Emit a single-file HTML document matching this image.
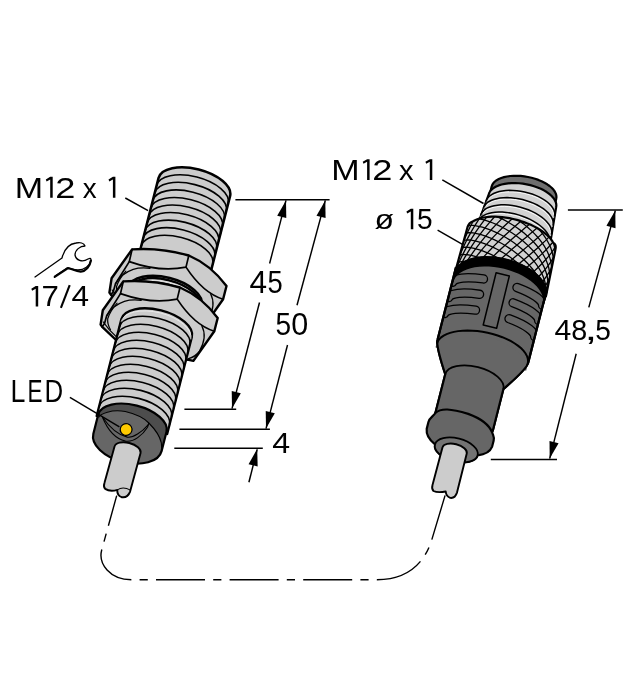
<!DOCTYPE html>
<html><head><meta charset="utf-8"><title>Dimension drawing</title>
<style>html,body{margin:0;padding:0;background:#fff}svg{display:block}</style></head>
<body>
<svg width="632" height="677" viewBox="0 0 632 677">
<rect width="632" height="677" fill="#fff"/>
<g transform="translate(195 187.2) rotate(14.3)">
<path d="M -37.6 80 L -37.6 0 A 36.9 18.1 0 0 1 36.2 0 L 36.2 80 Z" fill="#cccccc" stroke="#000" stroke-width="2.5" stroke-linejoin="round"/>
<path d="M -37.6 7.8 A 36.9 18.1 0 0 1 36.2 7.8" fill="none" stroke="#000" stroke-width="1.6" />
<path d="M -37.6 15.6 A 36.9 18.1 0 0 1 36.2 15.6" fill="none" stroke="#000" stroke-width="1.6" />
<path d="M -37.6 23.4 A 36.9 18.1 0 0 1 36.2 23.4" fill="none" stroke="#000" stroke-width="1.6" />
<path d="M -37.6 31.2 A 36.9 18.1 0 0 1 36.2 31.2" fill="none" stroke="#000" stroke-width="1.6" />
<path d="M -37.6 39 A 36.9 18.1 0 0 1 36.2 39" fill="none" stroke="#000" stroke-width="1.6" />
<path d="M -37.6 46.8 A 36.9 18.1 0 0 1 36.2 46.8" fill="none" stroke="#000" stroke-width="1.6" />
<path d="M -37.6 54.6 A 36.9 18.1 0 0 1 36.2 54.6" fill="none" stroke="#000" stroke-width="1.6" />
<path d="M -37.6 62.4 A 36.9 18.1 0 0 1 36.2 62.4" fill="none" stroke="#000" stroke-width="1.6" />
<path d="M -37.6 70.2 A 36.9 18.1 0 0 1 36.2 70.2" fill="none" stroke="#000" stroke-width="1.6" />
</g>
<path d="M 132.1 249.4 Q 160 247.3 188.8 255.5 Q 211 265 226.5 286 L 223.1 299.2 L 202.2 328.9 L 197.4 327.8 L 160 326 L 124.8 308 L 111 294.8 L 109.4 292.6 L 111.6 278.2 Z" fill="#cccccc" stroke="#000" stroke-width="2.4" stroke-linejoin="round"/>
<g fill="none" stroke="#000" stroke-width="1.7" stroke-linecap="round" stroke-linejoin="round">
<path d="M 132.1 249.4 L 129.3 261.6 Q 160 272.5 186 267.1 L 188.8 255.5"/>
<path d="M 186 267.1 Q 203 293 223.1 299.2"/>
<path d="M 129.3 261.6 L 115.5 283.7 L 113.3 291.5 L 111 294.8"/>
<path d="M 115.5 283.7 Q 121 273.5 133.2 269.3 Q 140 267.3 150 268.3" stroke-width="1.3"/>
<path d="M 210.5 293.5 Q 216.5 305 208.1 319.5 Q 204 325 197.4 326.6" stroke-width="1.3"/>
<path d="M 112.1 290 L 118.2 297.8 L 124.8 304.4" stroke-width="1.2"/>
<path d="M 125.9 271.2 Q 119 279 116.5 286.7 Q 116 292 119.3 297.8" stroke-width="1.2"/>
</g>
<g transform="translate(195 187.2) rotate(14.3)">
<path d="M -39.5 140 L -39.5 113 A 37.5 18.8 0 0 1 35.5 113 L 35.5 140 Z" fill="#cccccc" stroke="#000" stroke-width="2.6"/>
<path d="M -38.8 115 A 36.8 18.4 0 0 1 34.8 115" fill="none" stroke="#000" stroke-width="2.4" />
<path d="M -38.6 117 A 36.6 18.3 0 0 1 34.6 117" fill="none" stroke="#e8e8e8" stroke-width="0.8" />
<path d="M -38.6 119.2 A 36.6 18.3 0 0 1 34.6 119.2" fill="none" stroke="#000" stroke-width="2.2" />
<path d="M -38.6 121.2 A 36.6 18.3 0 0 1 34.6 121.2" fill="none" stroke="#e8e8e8" stroke-width="0.7" />
</g>
<g transform="translate(-8.8 32)">
<path d="M 132.1 249.4 Q 160 247.3 188.8 255.5 Q 211 265 226.5 286 L 223.1 299.2 L 202.2 328.9 L 197.4 327.8 L 160 326 L 124.8 308 L 111 294.8 L 109.4 292.6 L 111.6 278.2 Z" fill="#cccccc" stroke="#000" stroke-width="2.4" stroke-linejoin="round"/>
<g fill="none" stroke="#000" stroke-width="1.7" stroke-linecap="round" stroke-linejoin="round">
<path d="M 132.1 249.4 L 129.3 261.6 Q 160 272.5 186 267.1 L 188.8 255.5"/>
<path d="M 186 267.1 Q 203 293 223.1 299.2"/>
<path d="M 129.3 261.6 L 115.5 283.7 L 113.3 291.5 L 111 294.8"/>
<path d="M 115.5 283.7 Q 121 273.5 133.2 269.3 Q 140 267.3 150 268.3" stroke-width="1.3"/>
<path d="M 210.5 293.5 Q 216.5 305 208.1 319.5 Q 204 325 197.4 326.6" stroke-width="1.3"/>
<path d="M 112.1 290 L 118.2 297.8 L 124.8 304.4" stroke-width="1.2"/>
<path d="M 125.9 271.2 Q 119 279 116.5 286.7 Q 116 292 119.3 297.8" stroke-width="1.2"/>
</g>
</g>
<g transform="translate(195 187.2) rotate(14.3)">
<path d="M -38.8 246 L -38.8 146 A 36.4 18.2 0 0 1 34 146 L 34 246 Z" fill="#cccccc" stroke="#000" stroke-width="2.3" stroke-linejoin="round"/>
<path d="M -38.3 148.6 A 35.9 18.2 0 0 1 33.5 148.6" fill="none" stroke="#eee" stroke-width="0.8" />
<path d="M -38.8 154.25 A 36.4 18.2 0 0 1 34 154.25" fill="none" stroke="#000" stroke-width="1.6" />
<path d="M -38.8 162.5 A 36.4 18.2 0 0 1 34 162.5" fill="none" stroke="#000" stroke-width="1.6" />
<path d="M -38.8 170.75 A 36.4 18.2 0 0 1 34 170.75" fill="none" stroke="#000" stroke-width="1.6" />
<path d="M -38.8 179 A 36.4 18.2 0 0 1 34 179" fill="none" stroke="#000" stroke-width="1.6" />
<path d="M -38.8 187.25 A 36.4 18.2 0 0 1 34 187.25" fill="none" stroke="#000" stroke-width="1.6" />
<path d="M -38.8 195.5 A 36.4 18.2 0 0 1 34 195.5" fill="none" stroke="#000" stroke-width="1.6" />
<path d="M -38.8 203.75 A 36.4 18.2 0 0 1 34 203.75" fill="none" stroke="#000" stroke-width="1.6" />
<path d="M -38.8 212 A 36.4 18.2 0 0 1 34 212" fill="none" stroke="#000" stroke-width="1.6" />
<path d="M -38.8 220.25 A 36.4 18.2 0 0 1 34 220.25" fill="none" stroke="#000" stroke-width="1.6" />
<path d="M -38.8 228.5 A 36.4 18.2 0 0 1 34 228.5" fill="none" stroke="#000" stroke-width="1.6" />
<path d="M -38.8 236.75 A 36.4 18.2 0 0 1 34 236.75" fill="none" stroke="#000" stroke-width="1.6" />
<path d="M -37.6 244 A 35.2 18 0 0 1 32.8 244 L 32.8 264 A 35.2 20 0 0 1 -37.6 264 Z" fill="#4d4d4d" stroke="none"/>
<path d="M 32.8 264 A 35.2 20 0 0 1 -37.6 264 L -37.6 247 C -36 243 -26 235.5 -12.1 234.6 C 0 234.4 8 236.5 13.5 239.9 C 22 245 28 251 30.5 256 L 32.8 264 Z" fill="#666666" stroke="none"/>
<path d="M -36.6 247 C -36 243 -26 235.5 -12.1 234.6 C 0 234.4 8 236.5 13.5 239.9 C 22 245 28 251 30.5 256 L 32.8 263" fill="none" stroke="#000" stroke-width="1.1"/>
<path d="M 13.5 239.9 L 13.3 244.3 C 10.5 253 3.5 262.6 -4.6 263.2 C -16 263.4 -26 255 -33 245.5" fill="none" stroke="#000" stroke-width="1.1"/>
<path d="M 13.4 241.5 C 9 250.5 2 258.5 -3.9 258.9 C -15 259 -25 252.5 -33 245.5" fill="none" stroke="#000" stroke-width="1.1"/>
<path d="M -37.6 244 A 35.2 18 0 0 1 32.8 244 L 32.8 264 A 35.2 20 0 0 1 -37.6 264 Z" fill="none" stroke="#000" stroke-width="2.2" stroke-linejoin="round"/>
<circle cx="-6.9" cy="251.8" r="5.9" fill="#ffcb00" stroke="#000" stroke-width="1.2"/>
<path d="M -13.9 271 A 13.4 6.9 0 0 1 12.9 271 L 12.3 311 Q 11.5 318 5.5 318.5 Q 0.5 318 -0.5 312.5 Q -7 316.5 -12.5 314.5 Q -15 313 -14.7 309 Z" fill="#cccccc" stroke="#000" stroke-width="1.9" stroke-linejoin="round"/>
<path d="M -0.5 312.5 Q 4 307.5 12.3 309.5" fill="none" stroke="#000" stroke-width="1"/>
</g>
<g transform="translate(522.65 195.35) rotate(14.3)">
<defs><clipPath id="gr"><path d="M -46.8 175 L -46.8 92 A 46.5 23.2 0 0 1 46.7 92 L 46.7 175 Z"/></clipPath></defs>
<path d="M -46.8 169 L -46.8 92 A 46.5 23.2 0 0 1 46.7 92 L 46.7 169 Z" fill="#666666" stroke="none"/>
<g clip-path="url(#gr)" fill="none" stroke-linecap="round"><path d="M -46.4 101.48 A 46.5 12.5 0 0 1 -17.3 90.7" stroke="#000" stroke-width="9.4"/><path d="M 17.3 90.7 A 46.5 12.5 0 0 1 46.4 101.48" stroke="#000" stroke-width="9.4"/><path d="M -46.4 117.28 A 46.5 12.5 0 0 1 -17.3 106.5" stroke="#000" stroke-width="9.4"/><path d="M 17.3 106.5 A 46.5 12.5 0 0 1 46.4 117.28" stroke="#000" stroke-width="9.4"/><path d="M -46.4 133.68 A 46.5 12.5 0 0 1 -17.3 122.9" stroke="#000" stroke-width="9.4"/><path d="M 17.3 122.9 A 46.5 12.5 0 0 1 46.4 133.68" stroke="#000" stroke-width="9.4"/><path d="M -46.4 101.48 A 46.5 12.5 0 0 1 -17.3 90.7" stroke="#666666" stroke-width="6.8"/><path d="M 17.3 90.7 A 46.5 12.5 0 0 1 46.4 101.48" stroke="#666666" stroke-width="6.8"/><path d="M -46.4 117.28 A 46.5 12.5 0 0 1 -17.3 106.5" stroke="#666666" stroke-width="6.8"/><path d="M 17.3 106.5 A 46.5 12.5 0 0 1 46.4 117.28" stroke="#666666" stroke-width="6.8"/><path d="M -46.4 133.68 A 46.5 12.5 0 0 1 -17.3 122.9" stroke="#666666" stroke-width="6.8"/><path d="M 17.3 122.9 A 46.5 12.5 0 0 1 46.4 133.68" stroke="#666666" stroke-width="6.8"/></g>
<polygon points="-6.6,81.6 7,81.4 7.6,135.2 -6.2,135.4" fill="#666666" stroke="#000" stroke-width="1.5" stroke-linejoin="round"/>
<path d="M -46.8 86 L -46.8 161 Q -47.1 167 -30.8 192.5 L -30.8 236 L 29.2 236 L 29.2 192.5 Q 47 167 46.7 161 L 46.7 86" fill="none" stroke="#000" stroke-width="2.2" stroke-linejoin="round"/>
<path d="M -46.8 169 A 46.5 23.2 0 0 1 46.7 169 L 46.7 161 Q 47 167 29.2 192.5 L 29.2 236 L -30.8 236 L -30.8 192.5 Q -47.1 167 -46.8 161 Z" fill="#666666" stroke="none"/>
<path d="M -46.8 86 L -46.8 161 Q -47.1 167 -30.8 192.5 L -30.8 236 M 29.2 236 L 29.2 192.5 Q 47 167 46.7 161 L 46.7 86" fill="none" stroke="#000" stroke-width="2.2" stroke-linejoin="round"/>
<path d="M -46.5 164.93 L -46.21 162.51 L -45.33 160.1 L -43.89 157.74 L -41.9 155.44 L -39.37 153.24 L -36.36 151.17 L -32.88 149.25 L -28.99 147.51 L -24.74 145.96 L -20.18 144.64 L -15.36 143.54 L -10.35 142.7 L -5.21 142.12 L 0 141.8 L 5.21 141.75 L 10.35 141.98 L 15.36 142.47 L 20.18 143.22 L 24.74 144.23 L 28.99 145.48 L 32.88 146.95 L 36.36 148.62 L 39.37 150.48 L 41.9 152.51 L 43.89 154.66 L 45.33 156.93 L 46.21 159.28 L 46.5 161.67" fill="none" stroke="#000" stroke-width="2"/>
<path d="M -30.8 192.5 A 30 15 0 0 1 29.2 192.5" fill="none" stroke="#000" stroke-width="1.8" />
<path d="M -30.8 232.5 C -31.8 236 -35.3 238 -35.3 243 L -35.3 250 Q -34.3 258 -23.4 263 A 22 11.5 0 0 0 20.6 263 Q 31.5 259 32.5 251 L 32.5 245 C 32.5 241 30.7 240 29.2 237.5 C 23.2 229 9.2 226 1.2 225.2 C -16.8 224.4 -26.8 226 -30.8 232.5 Z" fill="#666666" stroke="#000" stroke-width="2.2" stroke-linejoin="round"/>
<ellipse cx="-1.4" cy="263" rx="22" ry="11.5" fill="#737373" stroke="#000" stroke-width="1.8"/>
<path d="M -15.4 264 A 12.5 6.4 0 0 1 9.6 264 L 9.8 304 Q 9.4 310.5 4.6 311 Q 0.1 310.5 -1.4 306 Q -8.9 309.5 -13.4 308.5 Q -15.9 307 -15.8 303 Z" fill="#cccccc" stroke="#000" stroke-width="1.9" stroke-linejoin="round"/>
<path d="M -32.2 10 L -32.2 -1.05 L -31.99 -2.87 L -31.38 -4.7 L -30.36 -6.5 L -28.95 -8.26 L -27.17 -9.96 L -25.04 -11.56 L -22.59 -13.06 L -19.85 -14.42 L -16.85 -15.65 L -13.63 -16.71 L -10.23 -17.6 L -6.7 -18.31 L -3.07 -18.82 L 0.6 -19.13 L 4.27 -19.24 L 7.9 -19.15 L 11.43 -18.85 L 14.83 -18.35 L 18.05 -17.65 L 21.05 -16.78 L 23.79 -15.72 L 26.24 -14.51 L 28.37 -13.15 L 30.15 -11.66 L 31.56 -10.07 L 32.58 -8.38 L 33.19 -6.62 L 33.4 -4.82 L 33.4 10 Z" fill="#6e6e6e" stroke="#000" stroke-width="2.2" stroke-linejoin="round"/>
<path d="M -38.22 58 L -33.1 7.36 L -32.89 5.43 L -32.25 3.5 L -31.18 1.59 L -29.71 -0.26 L -27.86 -2.05 L -25.63 -3.74 L -23.07 -5.32 L -20.21 -6.76 L -17.08 -8.04 L -13.72 -9.16 L -10.17 -10.09 L -6.48 -10.83 L -2.69 -11.37 L 1.15 -11.69 L 4.98 -11.8 L 8.77 -11.69 L 12.46 -11.36 L 16.01 -10.83 L 19.37 -10.09 L 22.5 -9.15 L 25.36 -8.03 L 27.92 -6.74 L 30.15 -5.3 L 32 -3.73 L 33.47 -2.03 L 34.54 -0.25 L 35.18 1.61 L 35.4 3.51 L 39.58 52 Z" fill="#d2d2d2" stroke="#000" stroke-width="2.2" stroke-linejoin="round"/>
<path d="M -33.42 16.39 L -33.2 14.42 L -32.55 12.46 L -31.48 10.53 L -30 8.67 L -28.13 6.89 L -25.9 5.21 L -23.32 3.66 L -20.44 2.25 L -17.28 1.01 L -13.9 -0.05 L -10.33 -0.92 L -6.61 -1.58 L -2.8 -2.04 L 1.06 -2.27 L 4.92 -2.29 L 8.73 -2.09 L 12.45 -1.66 L 16.02 -1.03 L 19.41 -0.18 L 22.56 0.85 L 25.44 2.07 L 28.02 3.45 L 30.26 4.98 L 32.13 6.64 L 33.61 8.41 L 34.68 10.27 L 35.33 12.18 L 35.54 14.14" fill="none" stroke="#fff" stroke-width="0.8"/>
<path d="M -34.02 14.91 L -33.8 12.94 L -33.14 10.98 L -32.05 9.05 L -30.54 7.19 L -28.64 5.4 L -26.36 3.72 L -23.74 2.17 L -20.81 0.77 L -17.6 -0.48 L -14.16 -1.54 L -10.52 -2.41 L -6.74 -3.08 L -2.87 -3.54 L 1.06 -3.77 L 4.99 -3.79 L 8.87 -3.59 L 12.65 -3.17 L 16.28 -2.53 L 19.73 -1.69 L 22.93 -0.66 L 25.87 0.55 L 28.49 1.94 L 30.77 3.47 L 32.67 5.12 L 34.17 6.89 L 35.26 8.75 L 35.92 10.66 L 36.14 12.62" fill="none" stroke="#000" stroke-width="1.5"/>
<path d="M -34.33 23.91 L -34.11 21.9 L -33.45 19.91 L -32.35 17.97 L -30.83 16.09 L -28.92 14.31 L -26.63 12.65 L -23.99 11.12 L -21.04 9.75 L -17.81 8.56 L -14.34 7.55 L -10.68 6.75 L -6.88 6.16 L -2.97 5.79 L 0.98 5.64 L 4.93 5.71 L 8.84 6.01 L 12.64 6.54 L 16.3 7.27 L 19.77 8.22 L 22.99 9.35 L 25.95 10.67 L 28.59 12.14 L 30.88 13.77 L 32.79 15.51 L 34.31 17.36 L 35.4 19.28 L 36.07 21.26 L 36.29 23.27" fill="none" stroke="#fff" stroke-width="0.8"/>
<path d="M -34.93 22.42 L -34.71 20.41 L -34.03 18.42 L -32.92 16.47 L -31.37 14.6 L -29.43 12.82 L -27.1 11.15 L -24.41 9.63 L -21.41 8.26 L -18.13 7.06 L -14.6 6.06 L -10.88 5.25 L -7.01 4.66 L -3.04 4.29 L 0.98 4.14 L 5 4.21 L 8.97 4.51 L 12.84 5.04 L 16.56 5.77 L 20.08 6.71 L 23.37 7.85 L 26.37 9.16 L 29.05 10.64 L 31.38 12.26 L 33.33 14.01 L 34.87 15.85 L 35.99 17.78 L 36.66 19.76 L 36.89 21.76" fill="none" stroke="#000" stroke-width="1.5"/>
<path d="M -35.24 31.39 L -35.02 29.34 L -34.34 27.32 L -33.22 25.36 L -31.67 23.47 L -29.7 21.7 L -27.36 20.05 L -24.66 18.56 L -21.64 17.23 L -18.33 16.08 L -14.78 15.14 L -11.04 14.4 L -7.15 13.89 L -3.15 13.6 L 0.9 13.54 L 4.94 13.72 L 8.94 14.12 L 12.83 14.75 L 16.58 15.59 L 20.12 16.63 L 23.43 17.87 L 26.45 19.29 L 29.15 20.86 L 31.5 22.58 L 33.46 24.41 L 35.01 26.34 L 36.13 28.33 L 36.81 30.37 L 37.04 32.43" fill="none" stroke="#fff" stroke-width="0.8"/>
<path d="M -35.84 29.89 L -35.61 27.83 L -34.92 25.81 L -33.78 23.85 L -32.21 21.97 L -30.21 20.19 L -27.83 18.55 L -25.08 17.05 L -22.01 15.72 L -18.65 14.58 L -15.04 13.63 L -11.24 12.9 L -7.28 12.39 L -3.22 12.1 L 0.9 12.04 L 5.01 12.22 L 9.07 12.62 L 13.03 13.25 L 16.84 14.09 L 20.44 15.14 L 23.8 16.38 L 26.88 17.8 L 29.62 19.37 L 32 21.09 L 34 22.92 L 35.57 24.84 L 36.71 26.84 L 37.4 28.88 L 37.64 30.94" fill="none" stroke="#000" stroke-width="1.5"/>
<path d="M -36.16 38.83 L -35.92 36.74 L -35.23 34.69 L -34.08 32.71 L -32.5 30.82 L -30.49 29.05 L -28.09 27.42 L -25.33 25.96 L -22.24 24.67 L -18.86 23.58 L -15.23 22.7 L -11.4 22.04 L -7.41 21.61 L -3.33 21.41 L 0.81 21.45 L 4.95 21.72 L 9.04 22.23 L 13.02 22.96 L 16.85 23.91 L 20.48 25.07 L 23.86 26.42 L 26.95 27.94 L 29.72 29.61 L 32.12 31.42 L 34.12 33.34 L 35.71 35.35 L 36.86 37.41 L 37.55 39.52 L 37.78 41.63" fill="none" stroke="#fff" stroke-width="0.8"/>
<path d="M -36.76 37.31 L -36.52 35.21 L -35.82 33.16 L -34.65 31.18 L -33.04 29.3 L -31 27.53 L -28.56 25.91 L -25.75 24.44 L -22.61 23.16 L -19.18 22.07 L -15.49 21.19 L -11.6 20.53 L -7.55 20.1 L -3.39 19.9 L 0.81 19.95 L 5.02 20.22 L 9.17 20.73 L 13.22 21.47 L 17.11 22.42 L 20.8 23.58 L 24.24 24.93 L 27.38 26.45 L 30.19 28.13 L 32.62 29.94 L 34.66 31.86 L 36.27 33.87 L 37.44 35.94 L 38.15 38.04 L 38.38 40.15" fill="none" stroke="#000" stroke-width="1.5"/>
<defs><clipPath id="kn"><path d="M -46.5 91.8 L -45.6 44.5 Q -45.3 39.5 -41.69 37.35 L -40.01 35.8 L -38.06 34.31 L -35.84 32.92 L -33.38 31.61 L -30.69 30.4 L -27.78 29.3 L -24.69 28.33 L -21.42 27.47 L -18.01 26.74 L -14.47 26.15 L -10.84 25.7 L -7.14 25.39 L -3.38 25.23 L 0.39 25.21 L 4.16 25.33 L 7.89 25.6 L 11.57 26.02 L 15.17 26.57 L 18.65 27.26 L 22 28.08 L 25.2 29.03 L 28.22 30.09 L 31.04 31.27 L 33.64 32.55 L 36 33.93 L 38.11 35.39 L 39.95 36.92 L 41.51 38.52 Q 45.1 39 45.2 45 L 47.5 91.8 L 47.2 88.96 L 46.32 86.15 L 44.86 83.41 L 42.85 80.78 L 40.3 78.29 L 37.25 75.96 L 33.73 73.84 L 29.8 71.94 L 25.51 70.29 L 20.89 68.92 L 16.02 67.83 L 10.96 67.04 L 5.76 66.56 L 0.5 66.4 L -4.76 66.56 L -9.96 67.04 L -15.02 67.83 L -19.89 68.92 L -24.51 70.29 L -28.8 71.94 L -32.73 73.84 L -36.25 75.96 L -39.3 78.29 L -41.85 80.78 L -43.86 83.41 L -45.32 86.15 L -46.2 88.96 L -46.5 91.8 Z"/></clipPath></defs>
<path d="M -46.5 91.8 L -45.6 44.5 Q -45.3 39.5 -41.69 37.35 L -40.01 35.8 L -38.06 34.31 L -35.84 32.92 L -33.38 31.61 L -30.69 30.4 L -27.78 29.3 L -24.69 28.33 L -21.42 27.47 L -18.01 26.74 L -14.47 26.15 L -10.84 25.7 L -7.14 25.39 L -3.38 25.23 L 0.39 25.21 L 4.16 25.33 L 7.89 25.6 L 11.57 26.02 L 15.17 26.57 L 18.65 27.26 L 22 28.08 L 25.2 29.03 L 28.22 30.09 L 31.04 31.27 L 33.64 32.55 L 36 33.93 L 38.11 35.39 L 39.95 36.92 L 41.51 38.52 Q 45.1 39 45.2 45 L 47.5 91.8 L 47.2 88.96 L 46.32 86.15 L 44.86 83.41 L 42.85 80.78 L 40.3 78.29 L 37.25 75.96 L 33.73 73.84 L 29.8 71.94 L 25.51 70.29 L 20.89 68.92 L 16.02 67.83 L 10.96 67.04 L 5.76 66.56 L 0.5 66.4 L -4.76 66.56 L -9.96 67.04 L -15.02 67.83 L -19.89 68.92 L -24.51 70.29 L -28.8 71.94 L -32.73 73.84 L -36.25 75.96 L -39.3 78.29 L -41.85 80.78 L -43.86 83.41 L -45.32 86.15 L -46.2 88.96 L -46.5 91.8 Z" fill="#d2d2d2" stroke="none"/>
<g clip-path="url(#kn)" fill="none" stroke="#000" stroke-width="1.3"><path d="M -47.8 -21.8 L -47.65 -22.54 L -47.22 -23.26 L -46.49 -23.94 L -45.48 -24.56 L -44.19 -25.12 L -42.63 -25.6 L -40.82 -26.01 L -38.75 -26.32 L -36.44 -26.54 L -33.92 -26.65 L -31.18 -26.65 L -28.26 -26.52 L -25.17 -26.27 L -21.92 -25.89 L -18.54 -25.38 L -15.05 -24.73 L -11.47 -23.94 L -7.81 -23.01 L -4.12 -21.94 L -0.4 -20.73 L 3.32 -19.38 L 7.01 -17.88 L 10.67 -16.26 L 14.25 -14.5 L 17.74 -12.62 L 21.12 -10.61 L 24.37 -8.49 L 27.46 -6.26 L 30.38 -3.93 L 33.12 -1.51 L 35.64 1 L 37.95 3.58 L 40.02 6.23 L 41.83 8.94 L 43.39 11.69 L 44.68 14.47 L 45.69 17.28 L 46.42 20.1 L 46.85 22.93 L 47 25.74"/><path d="M -47.8 -14.3 L -47.65 -15.04 L -47.22 -15.76 L -46.49 -16.44 L -45.48 -17.06 L -44.19 -17.62 L -42.63 -18.1 L -40.82 -18.51 L -38.75 -18.82 L -36.44 -19.04 L -33.92 -19.15 L -31.18 -19.15 L -28.26 -19.02 L -25.17 -18.77 L -21.92 -18.39 L -18.54 -17.88 L -15.05 -17.23 L -11.47 -16.44 L -7.81 -15.51 L -4.12 -14.44 L -0.4 -13.23 L 3.32 -11.88 L 7.01 -10.38 L 10.67 -8.76 L 14.25 -7 L 17.74 -5.12 L 21.12 -3.11 L 24.37 -0.99 L 27.46 1.24 L 30.38 3.57 L 33.12 5.99 L 35.64 8.5 L 37.95 11.08 L 40.02 13.73 L 41.83 16.44 L 43.39 19.19 L 44.68 21.97 L 45.69 24.78 L 46.42 27.6 L 46.85 30.43 L 47 33.24"/><path d="M -47.8 -6.8 L -47.65 -7.54 L -47.22 -8.26 L -46.49 -8.94 L -45.48 -9.56 L -44.19 -10.12 L -42.63 -10.6 L -40.82 -11.01 L -38.75 -11.32 L -36.44 -11.54 L -33.92 -11.65 L -31.18 -11.65 L -28.26 -11.52 L -25.17 -11.27 L -21.92 -10.89 L -18.54 -10.38 L -15.05 -9.73 L -11.47 -8.94 L -7.81 -8.01 L -4.12 -6.94 L -0.4 -5.73 L 3.32 -4.38 L 7.01 -2.88 L 10.67 -1.26 L 14.25 0.5 L 17.74 2.38 L 21.12 4.39 L 24.37 6.51 L 27.46 8.74 L 30.38 11.07 L 33.12 13.49 L 35.64 16 L 37.95 18.58 L 40.02 21.23 L 41.83 23.94 L 43.39 26.69 L 44.68 29.47 L 45.69 32.28 L 46.42 35.1 L 46.85 37.93 L 47 40.74"/><path d="M -47.8 0.7 L -47.65 -0.04 L -47.22 -0.76 L -46.49 -1.44 L -45.48 -2.06 L -44.19 -2.62 L -42.63 -3.1 L -40.82 -3.51 L -38.75 -3.82 L -36.44 -4.04 L -33.92 -4.15 L -31.18 -4.15 L -28.26 -4.02 L -25.17 -3.77 L -21.92 -3.39 L -18.54 -2.88 L -15.05 -2.23 L -11.47 -1.44 L -7.81 -0.51 L -4.12 0.56 L -0.4 1.77 L 3.32 3.12 L 7.01 4.62 L 10.67 6.24 L 14.25 8 L 17.74 9.88 L 21.12 11.89 L 24.37 14.01 L 27.46 16.24 L 30.38 18.57 L 33.12 20.99 L 35.64 23.5 L 37.95 26.08 L 40.02 28.73 L 41.83 31.44 L 43.39 34.19 L 44.68 36.97 L 45.69 39.78 L 46.42 42.6 L 46.85 45.43 L 47 48.24"/><path d="M -47.8 8.2 L -47.65 7.46 L -47.22 6.74 L -46.49 6.06 L -45.48 5.44 L -44.19 4.88 L -42.63 4.4 L -40.82 3.99 L -38.75 3.68 L -36.44 3.46 L -33.92 3.35 L -31.18 3.35 L -28.26 3.48 L -25.17 3.73 L -21.92 4.11 L -18.54 4.62 L -15.05 5.27 L -11.47 6.06 L -7.81 6.99 L -4.12 8.06 L -0.4 9.27 L 3.32 10.62 L 7.01 12.12 L 10.67 13.74 L 14.25 15.5 L 17.74 17.38 L 21.12 19.39 L 24.37 21.51 L 27.46 23.74 L 30.38 26.07 L 33.12 28.49 L 35.64 31 L 37.95 33.58 L 40.02 36.23 L 41.83 38.94 L 43.39 41.69 L 44.68 44.47 L 45.69 47.28 L 46.42 50.1 L 46.85 52.93 L 47 55.74"/><path d="M -47.8 15.7 L -47.65 14.96 L -47.22 14.24 L -46.49 13.56 L -45.48 12.94 L -44.19 12.38 L -42.63 11.9 L -40.82 11.49 L -38.75 11.18 L -36.44 10.96 L -33.92 10.85 L -31.18 10.85 L -28.26 10.98 L -25.17 11.23 L -21.92 11.61 L -18.54 12.12 L -15.05 12.77 L -11.47 13.56 L -7.81 14.49 L -4.12 15.56 L -0.4 16.77 L 3.32 18.12 L 7.01 19.62 L 10.67 21.24 L 14.25 23 L 17.74 24.88 L 21.12 26.89 L 24.37 29.01 L 27.46 31.24 L 30.38 33.57 L 33.12 35.99 L 35.64 38.5 L 37.95 41.08 L 40.02 43.73 L 41.83 46.44 L 43.39 49.19 L 44.68 51.97 L 45.69 54.78 L 46.42 57.6 L 46.85 60.43 L 47 63.24"/><path d="M -47.8 23.2 L -47.65 22.46 L -47.22 21.74 L -46.49 21.06 L -45.48 20.44 L -44.19 19.88 L -42.63 19.4 L -40.82 18.99 L -38.75 18.68 L -36.44 18.46 L -33.92 18.35 L -31.18 18.35 L -28.26 18.48 L -25.17 18.73 L -21.92 19.11 L -18.54 19.62 L -15.05 20.27 L -11.47 21.06 L -7.81 21.99 L -4.12 23.06 L -0.4 24.27 L 3.32 25.62 L 7.01 27.12 L 10.67 28.74 L 14.25 30.5 L 17.74 32.38 L 21.12 34.39 L 24.37 36.51 L 27.46 38.74 L 30.38 41.07 L 33.12 43.49 L 35.64 46 L 37.95 48.58 L 40.02 51.23 L 41.83 53.94 L 43.39 56.69 L 44.68 59.47 L 45.69 62.28 L 46.42 65.1 L 46.85 67.93 L 47 70.74"/><path d="M -47.8 30.7 L -47.65 29.96 L -47.22 29.24 L -46.49 28.56 L -45.48 27.94 L -44.19 27.38 L -42.63 26.9 L -40.82 26.49 L -38.75 26.18 L -36.44 25.96 L -33.92 25.85 L -31.18 25.85 L -28.26 25.98 L -25.17 26.23 L -21.92 26.61 L -18.54 27.12 L -15.05 27.77 L -11.47 28.56 L -7.81 29.49 L -4.12 30.56 L -0.4 31.77 L 3.32 33.12 L 7.01 34.62 L 10.67 36.24 L 14.25 38 L 17.74 39.88 L 21.12 41.89 L 24.37 44.01 L 27.46 46.24 L 30.38 48.57 L 33.12 50.99 L 35.64 53.5 L 37.95 56.08 L 40.02 58.73 L 41.83 61.44 L 43.39 64.19 L 44.68 66.97 L 45.69 69.78 L 46.42 72.6 L 46.85 75.43 L 47 78.24"/><path d="M -47.8 38.2 L -47.65 37.46 L -47.22 36.74 L -46.49 36.06 L -45.48 35.44 L -44.19 34.88 L -42.63 34.4 L -40.82 33.99 L -38.75 33.68 L -36.44 33.46 L -33.92 33.35 L -31.18 33.35 L -28.26 33.48 L -25.17 33.73 L -21.92 34.11 L -18.54 34.62 L -15.05 35.27 L -11.47 36.06 L -7.81 36.99 L -4.12 38.06 L -0.4 39.27 L 3.32 40.62 L 7.01 42.12 L 10.67 43.74 L 14.25 45.5 L 17.74 47.38 L 21.12 49.39 L 24.37 51.51 L 27.46 53.74 L 30.38 56.07 L 33.12 58.49 L 35.64 61 L 37.95 63.58 L 40.02 66.23 L 41.83 68.94 L 43.39 71.69 L 44.68 74.47 L 45.69 77.28 L 46.42 80.1 L 46.85 82.93 L 47 85.74"/><path d="M -47.8 45.7 L -47.65 44.96 L -47.22 44.24 L -46.49 43.56 L -45.48 42.94 L -44.19 42.38 L -42.63 41.9 L -40.82 41.49 L -38.75 41.18 L -36.44 40.96 L -33.92 40.85 L -31.18 40.85 L -28.26 40.98 L -25.17 41.23 L -21.92 41.61 L -18.54 42.12 L -15.05 42.77 L -11.47 43.56 L -7.81 44.49 L -4.12 45.56 L -0.4 46.77 L 3.32 48.12 L 7.01 49.62 L 10.67 51.24 L 14.25 53 L 17.74 54.88 L 21.12 56.89 L 24.37 59.01 L 27.46 61.24 L 30.38 63.57 L 33.12 65.99 L 35.64 68.5 L 37.95 71.08 L 40.02 73.73 L 41.83 76.44 L 43.39 79.19 L 44.68 81.97 L 45.69 84.78 L 46.42 87.6 L 46.85 90.43 L 47 93.24"/><path d="M -47.8 53.2 L -47.65 52.46 L -47.22 51.74 L -46.49 51.06 L -45.48 50.44 L -44.19 49.88 L -42.63 49.4 L -40.82 48.99 L -38.75 48.68 L -36.44 48.46 L -33.92 48.35 L -31.18 48.35 L -28.26 48.48 L -25.17 48.73 L -21.92 49.11 L -18.54 49.62 L -15.05 50.27 L -11.47 51.06 L -7.81 51.99 L -4.12 53.06 L -0.4 54.27 L 3.32 55.62 L 7.01 57.12 L 10.67 58.74 L 14.25 60.5 L 17.74 62.38 L 21.12 64.39 L 24.37 66.51 L 27.46 68.74 L 30.38 71.07 L 33.12 73.49 L 35.64 76 L 37.95 78.58 L 40.02 81.23 L 41.83 83.94 L 43.39 86.69 L 44.68 89.47 L 45.69 92.28 L 46.42 95.1 L 46.85 97.93 L 47 100.74"/><path d="M -47.8 60.7 L -47.65 59.96 L -47.22 59.24 L -46.49 58.56 L -45.48 57.94 L -44.19 57.38 L -42.63 56.9 L -40.82 56.49 L -38.75 56.18 L -36.44 55.96 L -33.92 55.85 L -31.18 55.85 L -28.26 55.98 L -25.17 56.23 L -21.92 56.61 L -18.54 57.12 L -15.05 57.77 L -11.47 58.56 L -7.81 59.49 L -4.12 60.56 L -0.4 61.77 L 3.32 63.12 L 7.01 64.62 L 10.67 66.24 L 14.25 68 L 17.74 69.88 L 21.12 71.89 L 24.37 74.01 L 27.46 76.24 L 30.38 78.57 L 33.12 80.99 L 35.64 83.5 L 37.95 86.08 L 40.02 88.73 L 41.83 91.44 L 43.39 94.19 L 44.68 96.97 L 45.69 99.78 L 46.42 102.6 L 46.85 105.43 L 47 108.24"/><path d="M -47.8 68.2 L -47.65 67.46 L -47.22 66.74 L -46.49 66.06 L -45.48 65.44 L -44.19 64.88 L -42.63 64.4 L -40.82 63.99 L -38.75 63.68 L -36.44 63.46 L -33.92 63.35 L -31.18 63.35 L -28.26 63.48 L -25.17 63.73 L -21.92 64.11 L -18.54 64.62 L -15.05 65.27 L -11.47 66.06 L -7.81 66.99 L -4.12 68.06 L -0.4 69.27 L 3.32 70.62 L 7.01 72.12 L 10.67 73.74 L 14.25 75.5 L 17.74 77.38 L 21.12 79.39 L 24.37 81.51 L 27.46 83.74 L 30.38 86.07 L 33.12 88.49 L 35.64 91 L 37.95 93.58 L 40.02 96.23 L 41.83 98.94 L 43.39 101.69 L 44.68 104.47 L 45.69 107.28 L 46.42 110.1 L 46.85 112.93 L 47 115.74"/><path d="M -47.8 75.7 L -47.65 74.96 L -47.22 74.24 L -46.49 73.56 L -45.48 72.94 L -44.19 72.38 L -42.63 71.9 L -40.82 71.49 L -38.75 71.18 L -36.44 70.96 L -33.92 70.85 L -31.18 70.85 L -28.26 70.98 L -25.17 71.23 L -21.92 71.61 L -18.54 72.12 L -15.05 72.77 L -11.47 73.56 L -7.81 74.49 L -4.12 75.56 L -0.4 76.77 L 3.32 78.12 L 7.01 79.62 L 10.67 81.24 L 14.25 83 L 17.74 84.88 L 21.12 86.89 L 24.37 89.01 L 27.46 91.24 L 30.38 93.57 L 33.12 95.99 L 35.64 98.5 L 37.95 101.08 L 40.02 103.73 L 41.83 106.44 L 43.39 109.19 L 44.68 111.97 L 45.69 114.78 L 46.42 117.6 L 46.85 120.43 L 47 123.24"/><path d="M -47.8 83.2 L -47.65 82.46 L -47.22 81.74 L -46.49 81.06 L -45.48 80.44 L -44.19 79.88 L -42.63 79.4 L -40.82 78.99 L -38.75 78.68 L -36.44 78.46 L -33.92 78.35 L -31.18 78.35 L -28.26 78.48 L -25.17 78.73 L -21.92 79.11 L -18.54 79.62 L -15.05 80.27 L -11.47 81.06 L -7.81 81.99 L -4.12 83.06 L -0.4 84.27 L 3.32 85.62 L 7.01 87.12 L 10.67 88.74 L 14.25 90.5 L 17.74 92.38 L 21.12 94.39 L 24.37 96.51 L 27.46 98.74 L 30.38 101.07 L 33.12 103.49 L 35.64 106 L 37.95 108.58 L 40.02 111.23 L 41.83 113.94 L 43.39 116.69 L 44.68 119.47 L 45.69 122.28 L 46.42 125.1 L 46.85 127.93 L 47 130.74"/><path d="M -47.8 90.7 L -47.65 89.96 L -47.22 89.24 L -46.49 88.56 L -45.48 87.94 L -44.19 87.38 L -42.63 86.9 L -40.82 86.49 L -38.75 86.18 L -36.44 85.96 L -33.92 85.85 L -31.18 85.85 L -28.26 85.98 L -25.17 86.23 L -21.92 86.61 L -18.54 87.12 L -15.05 87.77 L -11.47 88.56 L -7.81 89.49 L -4.12 90.56 L -0.4 91.77 L 3.32 93.12 L 7.01 94.62 L 10.67 96.24 L 14.25 98 L 17.74 99.88 L 21.12 101.89 L 24.37 104.01 L 27.46 106.24 L 30.38 108.57 L 33.12 110.99 L 35.64 113.5 L 37.95 116.08 L 40.02 118.73 L 41.83 121.44 L 43.39 124.19 L 44.68 126.97 L 45.69 129.78 L 46.42 132.6 L 46.85 135.43 L 47 138.24"/><path d="M -47.8 98.2 L -47.65 97.46 L -47.22 96.74 L -46.49 96.06 L -45.48 95.44 L -44.19 94.88 L -42.63 94.4 L -40.82 93.99 L -38.75 93.68 L -36.44 93.46 L -33.92 93.35 L -31.18 93.35 L -28.26 93.48 L -25.17 93.73 L -21.92 94.11 L -18.54 94.62 L -15.05 95.27 L -11.47 96.06 L -7.81 96.99 L -4.12 98.06 L -0.4 99.27 L 3.32 100.62 L 7.01 102.12 L 10.67 103.74 L 14.25 105.5 L 17.74 107.38 L 21.12 109.39 L 24.37 111.51 L 27.46 113.74 L 30.38 116.07 L 33.12 118.49 L 35.64 121 L 37.95 123.58 L 40.02 126.23 L 41.83 128.94 L 43.39 131.69 L 44.68 134.47 L 45.69 137.28 L 46.42 140.1 L 46.85 142.93 L 47 145.74"/><path d="M -47.8 105.7 L -47.65 104.96 L -47.22 104.24 L -46.49 103.56 L -45.48 102.94 L -44.19 102.38 L -42.63 101.9 L -40.82 101.49 L -38.75 101.18 L -36.44 100.96 L -33.92 100.85 L -31.18 100.85 L -28.26 100.98 L -25.17 101.23 L -21.92 101.61 L -18.54 102.12 L -15.05 102.77 L -11.47 103.56 L -7.81 104.49 L -4.12 105.56 L -0.4 106.77 L 3.32 108.12 L 7.01 109.62 L 10.67 111.24 L 14.25 113 L 17.74 114.88 L 21.12 116.89 L 24.37 119.01 L 27.46 121.24 L 30.38 123.57 L 33.12 125.99 L 35.64 128.5 L 37.95 131.08 L 40.02 133.73 L 41.83 136.44 L 43.39 139.19 L 44.68 141.97 L 45.69 144.78 L 46.42 147.6 L 46.85 150.43 L 47 153.24"/><path d="M -47.8 113.2 L -47.65 112.46 L -47.22 111.74 L -46.49 111.06 L -45.48 110.44 L -44.19 109.88 L -42.63 109.4 L -40.82 108.99 L -38.75 108.68 L -36.44 108.46 L -33.92 108.35 L -31.18 108.35 L -28.26 108.48 L -25.17 108.73 L -21.92 109.11 L -18.54 109.62 L -15.05 110.27 L -11.47 111.06 L -7.81 111.99 L -4.12 113.06 L -0.4 114.27 L 3.32 115.62 L 7.01 117.12 L 10.67 118.74 L 14.25 120.5 L 17.74 122.38 L 21.12 124.39 L 24.37 126.51 L 27.46 128.74 L 30.38 131.07 L 33.12 133.49 L 35.64 136 L 37.95 138.58 L 40.02 141.23 L 41.83 143.94 L 43.39 146.69 L 44.68 149.47 L 45.69 152.28 L 46.42 155.1 L 46.85 157.93 L 47 160.74"/><path d="M -47.8 120.7 L -47.65 119.96 L -47.22 119.24 L -46.49 118.56 L -45.48 117.94 L -44.19 117.38 L -42.63 116.9 L -40.82 116.49 L -38.75 116.18 L -36.44 115.96 L -33.92 115.85 L -31.18 115.85 L -28.26 115.98 L -25.17 116.23 L -21.92 116.61 L -18.54 117.12 L -15.05 117.77 L -11.47 118.56 L -7.81 119.49 L -4.12 120.56 L -0.4 121.77 L 3.32 123.12 L 7.01 124.62 L 10.67 126.24 L 14.25 128 L 17.74 129.88 L 21.12 131.89 L 24.37 134.01 L 27.46 136.24 L 30.38 138.57 L 33.12 140.99 L 35.64 143.5 L 37.95 146.08 L 40.02 148.73 L 41.83 151.44 L 43.39 154.19 L 44.68 156.97 L 45.69 159.78 L 46.42 162.6 L 46.85 165.43 L 47 168.24"/><path d="M -47.8 128.2 L -47.65 127.46 L -47.22 126.74 L -46.49 126.06 L -45.48 125.44 L -44.19 124.88 L -42.63 124.4 L -40.82 123.99 L -38.75 123.68 L -36.44 123.46 L -33.92 123.35 L -31.18 123.35 L -28.26 123.48 L -25.17 123.73 L -21.92 124.11 L -18.54 124.62 L -15.05 125.27 L -11.47 126.06 L -7.81 126.99 L -4.12 128.06 L -0.4 129.27 L 3.32 130.62 L 7.01 132.12 L 10.67 133.74 L 14.25 135.5 L 17.74 137.38 L 21.12 139.39 L 24.37 141.51 L 27.46 143.74 L 30.38 146.07 L 33.12 148.49 L 35.64 151 L 37.95 153.58 L 40.02 156.23 L 41.83 158.94 L 43.39 161.69 L 44.68 164.47 L 45.69 167.28 L 46.42 170.1 L 46.85 172.93 L 47 175.74"/><path d="M -47.8 135.7 L -47.65 134.96 L -47.22 134.24 L -46.49 133.56 L -45.48 132.94 L -44.19 132.38 L -42.63 131.9 L -40.82 131.49 L -38.75 131.18 L -36.44 130.96 L -33.92 130.85 L -31.18 130.85 L -28.26 130.98 L -25.17 131.23 L -21.92 131.61 L -18.54 132.12 L -15.05 132.77 L -11.47 133.56 L -7.81 134.49 L -4.12 135.56 L -0.4 136.77 L 3.32 138.12 L 7.01 139.62 L 10.67 141.24 L 14.25 143 L 17.74 144.88 L 21.12 146.89 L 24.37 149.01 L 27.46 151.24 L 30.38 153.57 L 33.12 155.99 L 35.64 158.5 L 37.95 161.08 L 40.02 163.73 L 41.83 166.44 L 43.39 169.19 L 44.68 171.97 L 45.69 174.78 L 46.42 177.6 L 46.85 180.43 L 47 183.24"/><path d="M -47.8 -115.93 L -47.65 -123.4 L -47.22 -130.85 L -46.49 -138.25 L -45.48 -145.6 L -44.19 -152.89 L -42.63 -160.11 L -40.82 -167.24 L -38.75 -174.29 L -36.44 -181.23 L -33.92 -188.07 L -31.18 -194.79 L -28.26 -201.4 L -25.17 -207.88 L -21.92 -214.23 L -18.54 -220.44 L -15.05 -226.52 L -11.47 -232.46 L -7.81 -238.26 L -4.12 -243.92 L -0.4 -249.43 L 3.32 -254.81 L 7.01 -260.05 L 10.67 -265.15 L 14.25 -270.12 L 17.74 -274.97 L 21.12 -279.69 L 24.37 -284.3 L 27.46 -288.8 L 30.38 -293.2 L 33.12 -297.5 L 35.64 -301.72 L 37.95 -305.87 L 40.02 -309.95 L 41.83 -313.97 L 43.39 -317.95 L 44.68 -321.89 L 45.69 -325.82 L 46.42 -329.72 L 46.85 -333.63 L 47 -337.54"/><path d="M -47.8 -102.48 L -47.65 -109.96 L -47.22 -117.41 L -46.49 -124.81 L -45.48 -132.16 L -44.19 -139.45 L -42.63 -146.67 L -40.82 -153.8 L -38.75 -160.84 L -36.44 -167.79 L -33.92 -174.63 L -31.18 -181.35 L -28.26 -187.96 L -25.17 -194.44 L -21.92 -200.79 L -18.54 -207 L -15.05 -213.08 L -11.47 -219.02 L -7.81 -224.82 L -4.12 -230.48 L -0.4 -235.99 L 3.32 -241.37 L 7.01 -246.61 L 10.67 -251.71 L 14.25 -256.68 L 17.74 -261.53 L 21.12 -266.25 L 24.37 -270.86 L 27.46 -275.36 L 30.38 -279.76 L 33.12 -284.06 L 35.64 -288.28 L 37.95 -292.43 L 40.02 -296.51 L 41.83 -300.53 L 43.39 -304.51 L 44.68 -308.45 L 45.69 -312.37 L 46.42 -316.28 L 46.85 -320.19 L 47 -324.1"/><path d="M -47.8 -89.04 L -47.65 -96.52 L -47.22 -103.97 L -46.49 -111.37 L -45.48 -118.72 L -44.19 -126.01 L -42.63 -133.23 L -40.82 -140.36 L -38.75 -147.4 L -36.44 -154.35 L -33.92 -161.19 L -31.18 -167.91 L -28.26 -174.52 L -25.17 -181 L -21.92 -187.35 L -18.54 -193.56 L -15.05 -199.64 L -11.47 -205.58 L -7.81 -211.38 L -4.12 -217.04 L -0.4 -222.55 L 3.32 -227.93 L 7.01 -233.17 L 10.67 -238.27 L 14.25 -243.24 L 17.74 -248.09 L 21.12 -252.81 L 24.37 -257.42 L 27.46 -261.92 L 30.38 -266.32 L 33.12 -270.62 L 35.64 -274.84 L 37.95 -278.99 L 40.02 -283.07 L 41.83 -287.09 L 43.39 -291.07 L 44.68 -295.01 L 45.69 -298.93 L 46.42 -302.84 L 46.85 -306.75 L 47 -310.66"/><path d="M -47.8 -75.6 L -47.65 -83.08 L -47.22 -90.53 L -46.49 -97.93 L -45.48 -105.28 L -44.19 -112.57 L -42.63 -119.78 L -40.82 -126.92 L -38.75 -133.96 L -36.44 -140.91 L -33.92 -147.75 L -31.18 -154.47 L -28.26 -161.08 L -25.17 -167.56 L -21.92 -173.91 L -18.54 -180.12 L -15.05 -186.2 L -11.47 -192.14 L -7.81 -197.94 L -4.12 -203.6 L -0.4 -209.11 L 3.32 -214.49 L 7.01 -219.73 L 10.67 -224.83 L 14.25 -229.8 L 17.74 -234.64 L 21.12 -239.37 L 24.37 -243.98 L 27.46 -248.48 L 30.38 -252.87 L 33.12 -257.18 L 35.64 -261.4 L 37.95 -265.55 L 40.02 -269.62 L 41.83 -273.65 L 43.39 -277.63 L 44.68 -281.57 L 45.69 -285.49 L 46.42 -289.4 L 46.85 -293.3 L 47 -297.22"/><path d="M -47.8 -62.16 L -47.65 -69.64 L -47.22 -77.08 L -46.49 -84.49 L -45.48 -91.84 L -44.19 -99.13 L -42.63 -106.34 L -40.82 -113.48 L -38.75 -120.52 L -36.44 -127.47 L -33.92 -134.3 L -31.18 -141.03 L -28.26 -147.63 L -25.17 -154.11 L -21.92 -160.46 L -18.54 -166.68 L -15.05 -172.76 L -11.47 -178.7 L -7.81 -184.5 L -4.12 -190.15 L -0.4 -195.67 L 3.32 -201.05 L 7.01 -206.28 L 10.67 -211.39 L 14.25 -216.36 L 17.74 -221.2 L 21.12 -225.93 L 24.37 -230.54 L 27.46 -235.03 L 30.38 -239.43 L 33.12 -243.74 L 35.64 -247.96 L 37.95 -252.1 L 40.02 -256.18 L 41.83 -260.21 L 43.39 -264.19 L 44.68 -268.13 L 45.69 -272.05 L 46.42 -275.96 L 46.85 -279.86 L 47 -283.78"/><path d="M -47.8 -48.72 L -47.65 -56.2 L -47.22 -63.64 L -46.49 -71.05 L -45.48 -78.4 L -44.19 -85.69 L -42.63 -92.9 L -40.82 -100.04 L -38.75 -107.08 L -36.44 -114.02 L -33.92 -120.86 L -31.18 -127.59 L -28.26 -134.19 L -25.17 -140.67 L -21.92 -147.02 L -18.54 -153.24 L -15.05 -159.32 L -11.47 -165.26 L -7.81 -171.06 L -4.12 -176.71 L -0.4 -182.23 L 3.32 -187.6 L 7.01 -192.84 L 10.67 -197.95 L 14.25 -202.92 L 17.74 -207.76 L 21.12 -212.49 L 24.37 -217.09 L 27.46 -221.59 L 30.38 -225.99 L 33.12 -230.3 L 35.64 -234.52 L 37.95 -238.66 L 40.02 -242.74 L 41.83 -246.77 L 43.39 -250.74 L 44.68 -254.69 L 45.69 -258.61 L 46.42 -262.52 L 46.85 -266.42 L 47 -270.34"/><path d="M -47.8 -35.28 L -47.65 -42.76 L -47.22 -50.2 L -46.49 -57.61 L -45.48 -64.96 L -44.19 -72.24 L -42.63 -79.46 L -40.82 -86.59 L -38.75 -93.64 L -36.44 -100.58 L -33.92 -107.42 L -31.18 -114.15 L -28.26 -120.75 L -25.17 -127.23 L -21.92 -133.58 L -18.54 -139.8 L -15.05 -145.88 L -11.47 -151.82 L -7.81 -157.61 L -4.12 -163.27 L -0.4 -168.79 L 3.32 -174.16 L 7.01 -179.4 L 10.67 -184.5 L 14.25 -189.48 L 17.74 -194.32 L 21.12 -199.04 L 24.37 -203.65 L 27.46 -208.15 L 30.38 -212.55 L 33.12 -216.86 L 35.64 -221.08 L 37.95 -225.22 L 40.02 -229.3 L 41.83 -233.33 L 43.39 -237.3 L 44.68 -241.25 L 45.69 -245.17 L 46.42 -249.08 L 46.85 -252.98 L 47 -256.9"/><path d="M -47.8 -21.84 L -47.65 -29.31 L -47.22 -36.76 L -46.49 -44.16 L -45.48 -51.52 L -44.19 -58.8 L -42.63 -66.02 L -40.82 -73.15 L -38.75 -80.2 L -36.44 -87.14 L -33.92 -93.98 L -31.18 -100.71 L -28.26 -107.31 L -25.17 -113.79 L -21.92 -120.14 L -18.54 -126.36 L -15.05 -132.44 L -11.47 -138.37 L -7.81 -144.17 L -4.12 -149.83 L -0.4 -155.35 L 3.32 -160.72 L 7.01 -165.96 L 10.67 -171.06 L 14.25 -176.04 L 17.74 -180.88 L 21.12 -185.6 L 24.37 -190.21 L 27.46 -194.71 L 30.38 -199.11 L 33.12 -203.41 L 35.64 -207.64 L 37.95 -211.78 L 40.02 -215.86 L 41.83 -219.88 L 43.39 -223.86 L 44.68 -227.81 L 45.69 -231.73 L 46.42 -235.63 L 46.85 -239.54 L 47 -243.45"/><path d="M -47.8 -8.4 L -47.65 -15.87 L -47.22 -23.32 L -46.49 -30.72 L -45.48 -38.07 L -44.19 -45.36 L -42.63 -52.58 L -40.82 -59.71 L -38.75 -66.76 L -36.44 -73.7 L -33.92 -80.54 L -31.18 -87.26 L -28.26 -93.87 L -25.17 -100.35 L -21.92 -106.7 L -18.54 -112.92 L -15.05 -118.99 L -11.47 -124.93 L -7.81 -130.73 L -4.12 -136.39 L -0.4 -141.9 L 3.32 -147.28 L 7.01 -152.52 L 10.67 -157.62 L 14.25 -162.59 L 17.74 -167.44 L 21.12 -172.16 L 24.37 -176.77 L 27.46 -181.27 L 30.38 -185.67 L 33.12 -189.97 L 35.64 -194.19 L 37.95 -198.34 L 40.02 -202.42 L 41.83 -206.44 L 43.39 -210.42 L 44.68 -214.37 L 45.69 -218.29 L 46.42 -222.19 L 46.85 -226.1 L 47 -230.01"/><path d="M -47.8 5.04 L -47.65 -2.43 L -47.22 -9.88 L -46.49 -17.28 L -45.48 -24.63 L -44.19 -31.92 L -42.63 -39.14 L -40.82 -46.27 L -38.75 -53.31 L -36.44 -60.26 L -33.92 -67.1 L -31.18 -73.82 L -28.26 -80.43 L -25.17 -86.91 L -21.92 -93.26 L -18.54 -99.47 L -15.05 -105.55 L -11.47 -111.49 L -7.81 -117.29 L -4.12 -122.95 L -0.4 -128.46 L 3.32 -133.84 L 7.01 -139.08 L 10.67 -144.18 L 14.25 -149.15 L 17.74 -154 L 21.12 -158.72 L 24.37 -163.33 L 27.46 -167.83 L 30.38 -172.23 L 33.12 -176.53 L 35.64 -180.75 L 37.95 -184.9 L 40.02 -188.98 L 41.83 -193 L 43.39 -196.98 L 44.68 -200.92 L 45.69 -204.84 L 46.42 -208.75 L 46.85 -212.66 L 47 -216.57"/><path d="M -47.8 18.49 L -47.65 11.01 L -47.22 3.56 L -46.49 -3.84 L -45.48 -11.19 L -44.19 -18.48 L -42.63 -25.7 L -40.82 -32.83 L -38.75 -39.87 L -36.44 -46.82 L -33.92 -53.66 L -31.18 -60.38 L -28.26 -66.99 L -25.17 -73.47 L -21.92 -79.82 L -18.54 -86.03 L -15.05 -92.11 L -11.47 -98.05 L -7.81 -103.85 L -4.12 -109.51 L -0.4 -115.02 L 3.32 -120.4 L 7.01 -125.64 L 10.67 -130.74 L 14.25 -135.71 L 17.74 -140.56 L 21.12 -145.28 L 24.37 -149.89 L 27.46 -154.39 L 30.38 -158.79 L 33.12 -163.09 L 35.64 -167.31 L 37.95 -171.46 L 40.02 -175.54 L 41.83 -179.56 L 43.39 -183.54 L 44.68 -187.48 L 45.69 -191.4 L 46.42 -195.31 L 46.85 -199.22 L 47 -203.13"/><path d="M -47.8 31.93 L -47.65 24.45 L -47.22 17 L -46.49 9.6 L -45.48 2.25 L -44.19 -5.04 L -42.63 -12.25 L -40.82 -19.39 L -38.75 -26.43 L -36.44 -33.38 L -33.92 -40.22 L -31.18 -46.94 L -28.26 -53.55 L -25.17 -60.03 L -21.92 -66.38 L -18.54 -72.59 L -15.05 -78.67 L -11.47 -84.61 L -7.81 -90.41 L -4.12 -96.07 L -0.4 -101.58 L 3.32 -106.96 L 7.01 -112.2 L 10.67 -117.3 L 14.25 -122.27 L 17.74 -127.12 L 21.12 -131.84 L 24.37 -136.45 L 27.46 -140.95 L 30.38 -145.34 L 33.12 -149.65 L 35.64 -153.87 L 37.95 -158.02 L 40.02 -162.1 L 41.83 -166.12 L 43.39 -170.1 L 44.68 -174.04 L 45.69 -177.96 L 46.42 -181.87 L 46.85 -185.77 L 47 -189.69"/><path d="M -47.8 45.37 L -47.65 37.89 L -47.22 30.45 L -46.49 23.04 L -45.48 15.69 L -44.19 8.4 L -42.63 1.19 L -40.82 -5.95 L -38.75 -12.99 L -36.44 -19.94 L -33.92 -26.77 L -31.18 -33.5 L -28.26 -40.1 L -25.17 -46.58 L -21.92 -52.93 L -18.54 -59.15 L -15.05 -65.23 L -11.47 -71.17 L -7.81 -76.97 L -4.12 -82.62 L -0.4 -88.14 L 3.32 -93.52 L 7.01 -98.75 L 10.67 -103.86 L 14.25 -108.83 L 17.74 -113.67 L 21.12 -118.4 L 24.37 -123.01 L 27.46 -127.51 L 30.38 -131.9 L 33.12 -136.21 L 35.64 -140.43 L 37.95 -144.57 L 40.02 -148.65 L 41.83 -152.68 L 43.39 -156.66 L 44.68 -160.6 L 45.69 -164.52 L 46.42 -168.43 L 46.85 -172.33 L 47 -176.25"/><path d="M -47.8 58.81 L -47.65 51.33 L -47.22 43.89 L -46.49 36.48 L -45.48 29.13 L -44.19 21.84 L -42.63 14.63 L -40.82 7.49 L -38.75 0.45 L -36.44 -6.49 L -33.92 -13.33 L -31.18 -20.06 L -28.26 -26.66 L -25.17 -33.14 L -21.92 -39.49 L -18.54 -45.71 L -15.05 -51.79 L -11.47 -57.73 L -7.81 -63.53 L -4.12 -69.18 L -0.4 -74.7 L 3.32 -80.07 L 7.01 -85.31 L 10.67 -90.42 L 14.25 -95.39 L 17.74 -100.23 L 21.12 -104.96 L 24.37 -109.56 L 27.46 -114.06 L 30.38 -118.46 L 33.12 -122.77 L 35.64 -126.99 L 37.95 -131.13 L 40.02 -135.21 L 41.83 -139.24 L 43.39 -143.22 L 44.68 -147.16 L 45.69 -151.08 L 46.42 -154.99 L 46.85 -158.89 L 47 -162.81"/><path d="M -47.8 72.25 L -47.65 64.77 L -47.22 57.33 L -46.49 49.92 L -45.48 42.57 L -44.19 35.28 L -42.63 28.07 L -40.82 20.93 L -38.75 13.89 L -36.44 6.95 L -33.92 0.11 L -31.18 -6.62 L -28.26 -13.22 L -25.17 -19.7 L -21.92 -26.05 L -18.54 -32.27 L -15.05 -38.35 L -11.47 -44.29 L -7.81 -50.08 L -4.12 -55.74 L -0.4 -61.26 L 3.32 -66.63 L 7.01 -71.87 L 10.67 -76.97 L 14.25 -81.95 L 17.74 -86.79 L 21.12 -91.52 L 24.37 -96.12 L 27.46 -100.62 L 30.38 -105.02 L 33.12 -109.33 L 35.64 -113.55 L 37.95 -117.69 L 40.02 -121.77 L 41.83 -125.8 L 43.39 -129.77 L 44.68 -133.72 L 45.69 -137.64 L 46.42 -141.55 L 46.85 -145.45 L 47 -149.37"/><path d="M -47.8 85.69 L -47.65 78.21 L -47.22 70.77 L -46.49 63.37 L -45.48 56.01 L -44.19 48.73 L -42.63 41.51 L -40.82 34.38 L -38.75 27.33 L -36.44 20.39 L -33.92 13.55 L -31.18 6.82 L -28.26 0.22 L -25.17 -6.26 L -21.92 -12.61 L -18.54 -18.83 L -15.05 -24.91 L -11.47 -30.84 L -7.81 -36.64 L -4.12 -42.3 L -0.4 -47.82 L 3.32 -53.19 L 7.01 -58.43 L 10.67 -63.53 L 14.25 -68.51 L 17.74 -73.35 L 21.12 -78.07 L 24.37 -82.68 L 27.46 -87.18 L 30.38 -91.58 L 33.12 -95.88 L 35.64 -100.11 L 37.95 -104.25 L 40.02 -108.33 L 41.83 -112.35 L 43.39 -116.33 L 44.68 -120.28 L 45.69 -124.2 L 46.42 -128.1 L 46.85 -132.01 L 47 -135.92"/><path d="M -47.8 99.13 L -47.65 91.66 L -47.22 84.21 L -46.49 76.81 L -45.48 69.46 L -44.19 62.17 L -42.63 54.95 L -40.82 47.82 L -38.75 40.77 L -36.44 33.83 L -33.92 26.99 L -31.18 20.27 L -28.26 13.66 L -25.17 7.18 L -21.92 0.83 L -18.54 -5.39 L -15.05 -11.46 L -11.47 -17.4 L -7.81 -23.2 L -4.12 -28.86 L -0.4 -34.38 L 3.32 -39.75 L 7.01 -44.99 L 10.67 -50.09 L 14.25 -55.06 L 17.74 -59.91 L 21.12 -64.63 L 24.37 -69.24 L 27.46 -73.74 L 30.38 -78.14 L 33.12 -82.44 L 35.64 -86.66 L 37.95 -90.81 L 40.02 -94.89 L 41.83 -98.91 L 43.39 -102.89 L 44.68 -106.84 L 45.69 -110.76 L 46.42 -114.66 L 46.85 -118.57 L 47 -122.48"/><path d="M -47.8 112.57 L -47.65 105.1 L -47.22 97.65 L -46.49 90.25 L -45.48 82.9 L -44.19 75.61 L -42.63 68.39 L -40.82 61.26 L -38.75 54.21 L -36.44 47.27 L -33.92 40.43 L -31.18 33.71 L -28.26 27.1 L -25.17 20.62 L -21.92 14.27 L -18.54 8.06 L -15.05 1.98 L -11.47 -3.96 L -7.81 -9.76 L -4.12 -15.42 L -0.4 -20.93 L 3.32 -26.31 L 7.01 -31.55 L 10.67 -36.65 L 14.25 -41.62 L 17.74 -46.47 L 21.12 -51.19 L 24.37 -55.8 L 27.46 -60.3 L 30.38 -64.7 L 33.12 -69 L 35.64 -73.22 L 37.95 -77.37 L 40.02 -81.45 L 41.83 -85.47 L 43.39 -89.45 L 44.68 -93.39 L 45.69 -97.31 L 46.42 -101.22 L 46.85 -105.13 L 47 -109.04"/><path d="M -47.8 126.02 L -47.65 118.54 L -47.22 111.09 L -46.49 103.69 L -45.48 96.34 L -44.19 89.05 L -42.63 81.83 L -40.82 74.7 L -38.75 67.66 L -36.44 60.71 L -33.92 53.87 L -31.18 47.15 L -28.26 40.54 L -25.17 34.06 L -21.92 27.71 L -18.54 21.5 L -15.05 15.42 L -11.47 9.48 L -7.81 3.68 L -4.12 -1.98 L -0.4 -7.49 L 3.32 -12.87 L 7.01 -18.11 L 10.67 -23.21 L 14.25 -28.18 L 17.74 -33.03 L 21.12 -37.75 L 24.37 -42.36 L 27.46 -46.86 L 30.38 -51.26 L 33.12 -55.56 L 35.64 -59.78 L 37.95 -63.93 L 40.02 -68.01 L 41.83 -72.03 L 43.39 -76.01 L 44.68 -79.95 L 45.69 -83.87 L 46.42 -87.78 L 46.85 -91.69 L 47 -95.6"/><path d="M -47.8 139.46 L -47.65 131.98 L -47.22 124.53 L -46.49 117.13 L -45.48 109.78 L -44.19 102.49 L -42.63 95.27 L -40.82 88.14 L -38.75 81.1 L -36.44 74.15 L -33.92 67.31 L -31.18 60.59 L -28.26 53.98 L -25.17 47.5 L -21.92 41.15 L -18.54 34.94 L -15.05 28.86 L -11.47 22.92 L -7.81 17.12 L -4.12 11.46 L -0.4 5.95 L 3.32 0.57 L 7.01 -4.67 L 10.67 -9.77 L 14.25 -14.74 L 17.74 -19.59 L 21.12 -24.31 L 24.37 -28.92 L 27.46 -33.42 L 30.38 -37.81 L 33.12 -42.12 L 35.64 -46.34 L 37.95 -50.49 L 40.02 -54.57 L 41.83 -58.59 L 43.39 -62.57 L 44.68 -66.51 L 45.69 -70.43 L 46.42 -74.34 L 46.85 -78.25 L 47 -82.16"/><path d="M -47.8 152.9 L -47.65 145.42 L -47.22 137.98 L -46.49 130.57 L -45.48 123.22 L -44.19 115.93 L -42.63 108.72 L -40.82 101.58 L -38.75 94.54 L -36.44 87.59 L -33.92 80.76 L -31.18 74.03 L -28.26 67.43 L -25.17 60.95 L -21.92 54.6 L -18.54 48.38 L -15.05 42.3 L -11.47 36.36 L -7.81 30.56 L -4.12 24.91 L -0.4 19.39 L 3.32 14.01 L 7.01 8.78 L 10.67 3.67 L 14.25 -1.3 L 17.74 -6.14 L 21.12 -10.87 L 24.37 -15.48 L 27.46 -19.98 L 30.38 -24.37 L 33.12 -28.68 L 35.64 -32.9 L 37.95 -37.04 L 40.02 -41.12 L 41.83 -45.15 L 43.39 -49.13 L 44.68 -53.07 L 45.69 -56.99 L 46.42 -60.9 L 46.85 -64.8 L 47 -68.72"/><path d="M -47.8 166.34 L -47.65 158.86 L -47.22 151.42 L -46.49 144.01 L -45.48 136.66 L -44.19 129.37 L -42.63 122.16 L -40.82 115.02 L -38.75 107.98 L -36.44 101.03 L -33.92 94.2 L -31.18 87.47 L -28.26 80.87 L -25.17 74.39 L -21.92 68.04 L -18.54 61.82 L -15.05 55.74 L -11.47 49.8 L -7.81 44 L -4.12 38.35 L -0.4 32.83 L 3.32 27.45 L 7.01 22.22 L 10.67 17.11 L 14.25 12.14 L 17.74 7.3 L 21.12 2.57 L 24.37 -2.03 L 27.46 -6.53 L 30.38 -10.93 L 33.12 -15.24 L 35.64 -19.46 L 37.95 -23.6 L 40.02 -27.68 L 41.83 -31.71 L 43.39 -35.69 L 44.68 -39.63 L 45.69 -43.55 L 46.42 -47.46 L 46.85 -51.36 L 47 -55.28"/><path d="M -47.8 179.78 L -47.65 172.3 L -47.22 164.86 L -46.49 157.45 L -45.48 150.1 L -44.19 142.81 L -42.63 135.6 L -40.82 128.46 L -38.75 121.42 L -36.44 114.48 L -33.92 107.64 L -31.18 100.91 L -28.26 94.31 L -25.17 87.83 L -21.92 81.48 L -18.54 75.26 L -15.05 69.18 L -11.47 63.24 L -7.81 57.45 L -4.12 51.79 L -0.4 46.27 L 3.32 40.9 L 7.01 35.66 L 10.67 30.55 L 14.25 25.58 L 17.74 20.74 L 21.12 16.01 L 24.37 11.41 L 27.46 6.91 L 30.38 2.51 L 33.12 -1.8 L 35.64 -6.02 L 37.95 -10.16 L 40.02 -14.24 L 41.83 -18.27 L 43.39 -22.24 L 44.68 -26.19 L 45.69 -30.11 L 46.42 -34.02 L 46.85 -37.92 L 47 -41.84"/><path d="M -47.8 193.22 L -47.65 185.74 L -47.22 178.3 L -46.49 170.9 L -45.48 163.54 L -44.19 156.26 L -42.63 149.04 L -40.82 141.91 L -38.75 134.86 L -36.44 127.92 L -33.92 121.08 L -31.18 114.35 L -28.26 107.75 L -25.17 101.27 L -21.92 94.92 L -18.54 88.7 L -15.05 82.62 L -11.47 76.68 L -7.81 70.89 L -4.12 65.23 L -0.4 59.71 L 3.32 54.34 L 7.01 49.1 L 10.67 44 L 14.25 39.02 L 17.74 34.18 L 21.12 29.46 L 24.37 24.85 L 27.46 20.35 L 30.38 15.95 L 33.12 11.64 L 35.64 7.42 L 37.95 3.28 L 40.02 -0.8 L 41.83 -4.82 L 43.39 -8.8 L 44.68 -12.75 L 45.69 -16.67 L 46.42 -20.57 L 46.85 -24.48 L 47 -28.4"/><path d="M -47.8 206.66 L -47.65 199.19 L -47.22 191.74 L -46.49 184.34 L -45.48 176.99 L -44.19 169.7 L -42.63 162.48 L -40.82 155.35 L -38.75 148.3 L -36.44 141.36 L -33.92 134.52 L -31.18 127.8 L -28.26 121.19 L -25.17 114.71 L -21.92 108.36 L -18.54 102.14 L -15.05 96.07 L -11.47 90.13 L -7.81 84.33 L -4.12 78.67 L -0.4 73.15 L 3.32 67.78 L 7.01 62.54 L 10.67 57.44 L 14.25 52.47 L 17.74 47.62 L 21.12 42.9 L 24.37 38.29 L 27.46 33.79 L 30.38 29.39 L 33.12 25.09 L 35.64 20.87 L 37.95 16.72 L 40.02 12.64 L 41.83 8.62 L 43.39 4.64 L 44.68 0.69 L 45.69 -3.23 L 46.42 -7.13 L 46.85 -11.04 L 47 -14.95"/><path d="M -47.8 220.1 L -47.65 212.63 L -47.22 205.18 L -46.49 197.78 L -45.48 190.43 L -44.19 183.14 L -42.63 175.92 L -40.82 168.79 L -38.75 161.74 L -36.44 154.8 L -33.92 147.96 L -31.18 141.24 L -28.26 134.63 L -25.17 128.15 L -21.92 121.8 L -18.54 115.59 L -15.05 109.51 L -11.47 103.57 L -7.81 97.77 L -4.12 92.11 L -0.4 86.6 L 3.32 81.22 L 7.01 75.98 L 10.67 70.88 L 14.25 65.91 L 17.74 61.06 L 21.12 56.34 L 24.37 51.73 L 27.46 47.23 L 30.38 42.83 L 33.12 38.53 L 35.64 34.31 L 37.95 30.16 L 40.02 26.08 L 41.83 22.06 L 43.39 18.08 L 44.68 14.14 L 45.69 10.22 L 46.42 6.31 L 46.85 2.4 L 47 -1.51"/><path d="M -47.8 233.55 L -47.65 226.07 L -47.22 218.62 L -46.49 211.22 L -45.48 203.87 L -44.19 196.58 L -42.63 189.36 L -40.82 182.23 L -38.75 175.19 L -36.44 168.24 L -33.92 161.4 L -31.18 154.68 L -28.26 148.07 L -25.17 141.59 L -21.92 135.24 L -18.54 129.03 L -15.05 122.95 L -11.47 117.01 L -7.81 111.21 L -4.12 105.55 L -0.4 100.04 L 3.32 94.66 L 7.01 89.42 L 10.67 84.32 L 14.25 79.35 L 17.74 74.5 L 21.12 69.78 L 24.37 65.17 L 27.46 60.67 L 30.38 56.27 L 33.12 51.97 L 35.64 47.75 L 37.95 43.6 L 40.02 39.52 L 41.83 35.5 L 43.39 31.52 L 44.68 27.58 L 45.69 23.66 L 46.42 19.75 L 46.85 15.84 L 47 11.93"/><path d="M -47.8 246.99 L -47.65 239.51 L -47.22 232.06 L -46.49 224.66 L -45.48 217.31 L -44.19 210.02 L -42.63 202.8 L -40.82 195.67 L -38.75 188.63 L -36.44 181.68 L -33.92 174.84 L -31.18 168.12 L -28.26 161.51 L -25.17 155.03 L -21.92 148.68 L -18.54 142.47 L -15.05 136.39 L -11.47 130.45 L -7.81 124.65 L -4.12 118.99 L -0.4 113.48 L 3.32 108.1 L 7.01 102.86 L 10.67 97.76 L 14.25 92.79 L 17.74 87.94 L 21.12 83.22 L 24.37 78.61 L 27.46 74.11 L 30.38 69.71 L 33.12 65.41 L 35.64 61.19 L 37.95 57.04 L 40.02 52.96 L 41.83 48.94 L 43.39 44.96 L 44.68 41.02 L 45.69 37.1 L 46.42 33.19 L 46.85 29.28 L 47 25.37"/><path d="M -47.8 260.43 L -47.65 252.95 L -47.22 245.5 L -46.49 238.1 L -45.48 230.75 L -44.19 223.46 L -42.63 216.25 L -40.82 209.11 L -38.75 202.07 L -36.44 195.12 L -33.92 188.29 L -31.18 181.56 L -28.26 174.95 L -25.17 168.47 L -21.92 162.13 L -18.54 155.91 L -15.05 149.83 L -11.47 143.89 L -7.81 138.09 L -4.12 132.44 L -0.4 126.92 L 3.32 121.54 L 7.01 116.31 L 10.67 111.2 L 14.25 106.23 L 17.74 101.39 L 21.12 96.66 L 24.37 92.05 L 27.46 87.55 L 30.38 83.16 L 33.12 78.85 L 35.64 74.63 L 37.95 70.48 L 40.02 66.41 L 41.83 62.38 L 43.39 58.4 L 44.68 54.46 L 45.69 50.54 L 46.42 46.63 L 46.85 42.73 L 47 38.81"/><path d="M -47.8 273.87 L -47.65 266.39 L -47.22 258.95 L -46.49 251.54 L -45.48 244.19 L -44.19 236.9 L -42.63 229.69 L -40.82 222.55 L -38.75 215.51 L -36.44 208.56 L -33.92 201.73 L -31.18 195 L -28.26 188.4 L -25.17 181.92 L -21.92 175.57 L -18.54 169.35 L -15.05 163.27 L -11.47 157.33 L -7.81 151.53 L -4.12 145.88 L -0.4 140.36 L 3.32 134.98 L 7.01 129.75 L 10.67 124.64 L 14.25 119.67 L 17.74 114.83 L 21.12 110.1 L 24.37 105.49 L 27.46 101 L 30.38 96.6 L 33.12 92.29 L 35.64 88.07 L 37.95 83.93 L 40.02 79.85 L 41.83 75.82 L 43.39 71.84 L 44.68 67.9 L 45.69 63.98 L 46.42 60.07 L 46.85 56.17 L 47 52.25"/><path d="M -47.8 287.31 L -47.65 279.83 L -47.22 272.39 L -46.49 264.98 L -45.48 257.63 L -44.19 250.34 L -42.63 243.13 L -40.82 235.99 L -38.75 228.95 L -36.44 222.01 L -33.92 215.17 L -31.18 208.44 L -28.26 201.84 L -25.17 195.36 L -21.92 189.01 L -18.54 182.79 L -15.05 176.71 L -11.47 170.77 L -7.81 164.97 L -4.12 159.32 L -0.4 153.8 L 3.32 148.43 L 7.01 143.19 L 10.67 138.08 L 14.25 133.11 L 17.74 128.27 L 21.12 123.54 L 24.37 118.94 L 27.46 114.44 L 30.38 110.04 L 33.12 105.73 L 35.64 101.51 L 37.95 97.37 L 40.02 93.29 L 41.83 89.26 L 43.39 85.29 L 44.68 81.34 L 45.69 77.42 L 46.42 73.51 L 46.85 69.61 L 47 65.69"/><path d="M -47.8 300.75 L -47.65 293.27 L -47.22 285.83 L -46.49 278.42 L -45.48 271.07 L -44.19 263.79 L -42.63 256.57 L -40.82 249.44 L -38.75 242.39 L -36.44 235.45 L -33.92 228.61 L -31.18 221.88 L -28.26 215.28 L -25.17 208.8 L -21.92 202.45 L -18.54 196.23 L -15.05 190.15 L -11.47 184.21 L -7.81 178.42 L -4.12 172.76 L -0.4 167.24 L 3.32 161.87 L 7.01 156.63 L 10.67 151.53 L 14.25 146.55 L 17.74 141.71 L 21.12 136.99 L 24.37 132.38 L 27.46 127.88 L 30.38 123.48 L 33.12 119.17 L 35.64 114.95 L 37.95 110.81 L 40.02 106.73 L 41.83 102.71 L 43.39 98.73 L 44.68 94.78 L 45.69 90.86 L 46.42 86.96 L 46.85 83.05 L 47 79.13"/><path d="M -47.8 314.19 L -47.65 306.72 L -47.22 299.27 L -46.49 291.87 L -45.48 284.52 L -44.19 277.23 L -42.63 270.01 L -40.82 262.88 L -38.75 255.83 L -36.44 248.89 L -33.92 242.05 L -31.18 235.32 L -28.26 228.72 L -25.17 222.24 L -21.92 215.89 L -18.54 209.67 L -15.05 203.6 L -11.47 197.66 L -7.81 191.86 L -4.12 186.2 L -0.4 180.68 L 3.32 175.31 L 7.01 170.07 L 10.67 164.97 L 14.25 160 L 17.74 155.15 L 21.12 150.43 L 24.37 145.82 L 27.46 141.32 L 30.38 136.92 L 33.12 132.62 L 35.64 128.4 L 37.95 124.25 L 40.02 120.17 L 41.83 116.15 L 43.39 112.17 L 44.68 108.22 L 45.69 104.3 L 46.42 100.4 L 46.85 96.49 L 47 92.58"/><path d="M -47.8 327.63 L -47.65 320.16 L -47.22 312.71 L -46.49 305.31 L -45.48 297.96 L -44.19 290.67 L -42.63 283.45 L -40.82 276.32 L -38.75 269.27 L -36.44 262.33 L -33.92 255.49 L -31.18 248.77 L -28.26 242.16 L -25.17 235.68 L -21.92 229.33 L -18.54 223.12 L -15.05 217.04 L -11.47 211.1 L -7.81 205.3 L -4.12 199.64 L -0.4 194.13 L 3.32 188.75 L 7.01 183.51 L 10.67 178.41 L 14.25 173.44 L 17.74 168.59 L 21.12 163.87 L 24.37 159.26 L 27.46 154.76 L 30.38 150.36 L 33.12 146.06 L 35.64 141.84 L 37.95 137.69 L 40.02 133.61 L 41.83 129.59 L 43.39 125.61 L 44.68 121.67 L 45.69 117.74 L 46.42 113.84 L 46.85 109.93 L 47 106.02"/><path d="M -47.8 341.08 L -47.65 333.6 L -47.22 326.15 L -46.49 318.75 L -45.48 311.4 L -44.19 304.11 L -42.63 296.89 L -40.82 289.76 L -38.75 282.72 L -36.44 275.77 L -33.92 268.93 L -31.18 262.21 L -28.26 255.6 L -25.17 249.12 L -21.92 242.77 L -18.54 236.56 L -15.05 230.48 L -11.47 224.54 L -7.81 218.74 L -4.12 213.08 L -0.4 207.57 L 3.32 202.19 L 7.01 196.95 L 10.67 191.85 L 14.25 186.88 L 17.74 182.03 L 21.12 177.31 L 24.37 172.7 L 27.46 168.2 L 30.38 163.8 L 33.12 159.5 L 35.64 155.28 L 37.95 151.13 L 40.02 147.05 L 41.83 143.03 L 43.39 139.05 L 44.68 135.11 L 45.69 131.19 L 46.42 127.28 L 46.85 123.37 L 47 119.46"/><path d="M -47.8 354.52 L -47.65 347.04 L -47.22 339.59 L -46.49 332.19 L -45.48 324.84 L -44.19 317.55 L -42.63 310.33 L -40.82 303.2 L -38.75 296.16 L -36.44 289.21 L -33.92 282.37 L -31.18 275.65 L -28.26 269.04 L -25.17 262.56 L -21.92 256.21 L -18.54 250 L -15.05 243.92 L -11.47 237.98 L -7.81 232.18 L -4.12 226.52 L -0.4 221.01 L 3.32 215.63 L 7.01 210.39 L 10.67 205.29 L 14.25 200.32 L 17.74 195.47 L 21.12 190.75 L 24.37 186.14 L 27.46 181.64 L 30.38 177.24 L 33.12 172.94 L 35.64 168.72 L 37.95 164.57 L 40.02 160.49 L 41.83 156.47 L 43.39 152.49 L 44.68 148.55 L 45.69 144.63 L 46.42 140.72 L 46.85 136.81 L 47 132.9"/><path d="M -47.8 367.96 L -47.65 360.48 L -47.22 353.03 L -46.49 345.63 L -45.48 338.28 L -44.19 330.99 L -42.63 323.78 L -40.82 316.64 L -38.75 309.6 L -36.44 302.65 L -33.92 295.81 L -31.18 289.09 L -28.26 282.48 L -25.17 276 L -21.92 269.65 L -18.54 263.44 L -15.05 257.36 L -11.47 251.42 L -7.81 245.62 L -4.12 239.96 L -0.4 234.45 L 3.32 229.07 L 7.01 223.83 L 10.67 218.73 L 14.25 213.76 L 17.74 208.91 L 21.12 204.19 L 24.37 199.58 L 27.46 195.08 L 30.38 190.69 L 33.12 186.38 L 35.64 182.16 L 37.95 178.01 L 40.02 173.94 L 41.83 169.91 L 43.39 165.93 L 44.68 161.99 L 45.69 158.07 L 46.42 154.16 L 46.85 150.26 L 47 146.34"/><path d="M -47.8 381.4 L -47.65 373.92 L -47.22 366.48 L -46.49 359.07 L -45.48 351.72 L -44.19 344.43 L -42.63 337.22 L -40.82 330.08 L -38.75 323.04 L -36.44 316.09 L -33.92 309.26 L -31.18 302.53 L -28.26 295.93 L -25.17 289.45 L -21.92 283.1 L -18.54 276.88 L -15.05 270.8 L -11.47 264.86 L -7.81 259.06 L -4.12 253.41 L -0.4 247.89 L 3.32 242.51 L 7.01 237.28 L 10.67 232.17 L 14.25 227.2 L 17.74 222.36 L 21.12 217.63 L 24.37 213.02 L 27.46 208.53 L 30.38 204.13 L 33.12 199.82 L 35.64 195.6 L 37.95 191.46 L 40.02 187.38 L 41.83 183.35 L 43.39 179.37 L 44.68 175.43 L 45.69 171.51 L 46.42 167.6 L 46.85 163.7 L 47 159.78"/><path d="M -47.8 394.84 L -47.65 387.36 L -47.22 379.92 L -46.49 372.51 L -45.48 365.16 L -44.19 357.87 L -42.63 350.66 L -40.82 343.52 L -38.75 336.48 L -36.44 329.54 L -33.92 322.7 L -31.18 315.97 L -28.26 309.37 L -25.17 302.89 L -21.92 296.54 L -18.54 290.32 L -15.05 284.24 L -11.47 278.3 L -7.81 272.5 L -4.12 266.85 L -0.4 261.33 L 3.32 255.96 L 7.01 250.72 L 10.67 245.61 L 14.25 240.64 L 17.74 235.8 L 21.12 231.07 L 24.37 226.47 L 27.46 221.97 L 30.38 217.57 L 33.12 213.26 L 35.64 209.04 L 37.95 204.9 L 40.02 200.82 L 41.83 196.79 L 43.39 192.81 L 44.68 188.87 L 45.69 184.95 L 46.42 181.04 L 46.85 177.14 L 47 173.22"/><path d="M -47.8 408.28 L -47.65 400.8 L -47.22 393.36 L -46.49 385.95 L -45.48 378.6 L -44.19 371.32 L -42.63 364.1 L -40.82 356.97 L -38.75 349.92 L -36.44 342.98 L -33.92 336.14 L -31.18 329.41 L -28.26 322.81 L -25.17 316.33 L -21.92 309.98 L -18.54 303.76 L -15.05 297.68 L -11.47 291.74 L -7.81 285.95 L -4.12 280.29 L -0.4 274.77 L 3.32 269.4 L 7.01 264.16 L 10.67 259.06 L 14.25 254.08 L 17.74 249.24 L 21.12 244.52 L 24.37 239.91 L 27.46 235.41 L 30.38 231.01 L 33.12 226.7 L 35.64 222.48 L 37.95 218.34 L 40.02 214.26 L 41.83 210.23 L 43.39 206.26 L 44.68 202.31 L 45.69 198.39 L 46.42 194.48 L 46.85 190.58 L 47 186.66"/><path d="M -47.8 421.72 L -47.65 414.25 L -47.22 406.8 L -46.49 399.4 L -45.48 392.04 L -44.19 384.76 L -42.63 377.54 L -40.82 370.41 L -38.75 363.36 L -36.44 356.42 L -33.92 349.58 L -31.18 342.85 L -28.26 336.25 L -25.17 329.77 L -21.92 323.42 L -18.54 317.2 L -15.05 311.12 L -11.47 305.19 L -7.81 299.39 L -4.12 293.73 L -0.4 288.21 L 3.32 282.84 L 7.01 277.6 L 10.67 272.5 L 14.25 267.52 L 17.74 262.68 L 21.12 257.96 L 24.37 253.35 L 27.46 248.85 L 30.38 244.45 L 33.12 240.15 L 35.64 235.92 L 37.95 231.78 L 40.02 227.7 L 41.83 223.68 L 43.39 219.7 L 44.68 215.75 L 45.69 211.83 L 46.42 207.93 L 46.85 204.02 L 47 200.11"/><path d="M -47.8 435.16 L -47.65 427.69 L -47.22 420.24 L -46.49 412.84 L -45.48 405.49 L -44.19 398.2 L -42.63 390.98 L -40.82 383.85 L -38.75 376.8 L -36.44 369.86 L -33.92 363.02 L -31.18 356.3 L -28.26 349.69 L -25.17 343.21 L -21.92 336.86 L -18.54 330.64 L -15.05 324.57 L -11.47 318.63 L -7.81 312.83 L -4.12 307.17 L -0.4 301.65 L 3.32 296.28 L 7.01 291.04 L 10.67 285.94 L 14.25 280.97 L 17.74 276.12 L 21.12 271.4 L 24.37 266.79 L 27.46 262.29 L 30.38 257.89 L 33.12 253.59 L 35.64 249.37 L 37.95 245.22 L 40.02 241.14 L 41.83 237.12 L 43.39 233.14 L 44.68 229.19 L 45.69 225.27 L 46.42 221.37 L 46.85 217.46 L 47 213.55"/><path d="M -47.8 448.6 L -47.65 441.13 L -47.22 433.68 L -46.49 426.28 L -45.48 418.93 L -44.19 411.64 L -42.63 404.42 L -40.82 397.29 L -38.75 390.25 L -36.44 383.3 L -33.92 376.46 L -31.18 369.74 L -28.26 363.13 L -25.17 356.65 L -21.92 350.3 L -18.54 344.09 L -15.05 338.01 L -11.47 332.07 L -7.81 326.27 L -4.12 320.61 L -0.4 315.1 L 3.32 309.72 L 7.01 304.48 L 10.67 299.38 L 14.25 294.41 L 17.74 289.56 L 21.12 284.84 L 24.37 280.23 L 27.46 275.73 L 30.38 271.33 L 33.12 267.03 L 35.64 262.81 L 37.95 258.66 L 40.02 254.58 L 41.83 250.56 L 43.39 246.58 L 44.68 242.64 L 45.69 238.72 L 46.42 234.81 L 46.85 230.9 L 47 226.99"/><path d="M -47.8 462.05 L -47.65 454.57 L -47.22 447.12 L -46.49 439.72 L -45.48 432.37 L -44.19 425.08 L -42.63 417.86 L -40.82 410.73 L -38.75 403.69 L -36.44 396.74 L -33.92 389.9 L -31.18 383.18 L -28.26 376.57 L -25.17 370.09 L -21.92 363.74 L -18.54 357.53 L -15.05 351.45 L -11.47 345.51 L -7.81 339.71 L -4.12 334.05 L -0.4 328.54 L 3.32 323.16 L 7.01 317.92 L 10.67 312.82 L 14.25 307.85 L 17.74 303 L 21.12 298.28 L 24.37 293.67 L 27.46 289.17 L 30.38 284.77 L 33.12 280.47 L 35.64 276.25 L 37.95 272.1 L 40.02 268.02 L 41.83 264 L 43.39 260.02 L 44.68 256.08 L 45.69 252.16 L 46.42 248.25 L 46.85 244.34 L 47 240.43"/></g>
<path d="M -46.5 91.8 L -45.6 44.5 Q -45.3 39.5 -41.69 37.35 L -40.01 35.8 L -38.06 34.31 L -35.84 32.92 L -33.38 31.61 L -30.69 30.4 L -27.78 29.3 L -24.69 28.33 L -21.42 27.47 L -18.01 26.74 L -14.47 26.15 L -10.84 25.7 L -7.14 25.39 L -3.38 25.23 L 0.39 25.21 L 4.16 25.33 L 7.89 25.6 L 11.57 26.02 L 15.17 26.57 L 18.65 27.26 L 22 28.08 L 25.2 29.03 L 28.22 30.09 L 31.04 31.27 L 33.64 32.55 L 36 33.93 L 38.11 35.39 L 39.95 36.92 L 41.51 38.52 Q 45.1 39 45.2 45 L 47.5 91.8 L 47.2 88.96 L 46.32 86.15 L 44.86 83.41 L 42.85 80.78 L 40.3 78.29 L 37.25 75.96 L 33.73 73.84 L 29.8 71.94 L 25.51 70.29 L 20.89 68.92 L 16.02 67.83 L 10.96 67.04 L 5.76 66.56 L 0.5 66.4 L -4.76 66.56 L -9.96 67.04 L -15.02 67.83 L -19.89 68.92 L -24.51 70.29 L -28.8 71.94 L -32.73 73.84 L -36.25 75.96 L -39.3 78.29 L -41.85 80.78 L -43.86 83.41 L -45.32 86.15 L -46.2 88.96 L -46.5 91.8 Z" fill="none" stroke="#000" stroke-width="2.2" stroke-linejoin="round"/>
<path d="M -46.5 91.8 L -46.2 88.96 L -45.32 86.15 L -43.86 83.41 L -41.85 80.78 L -39.3 78.29 L -36.25 75.96 L -32.73 73.84 L -28.8 71.94 L -24.51 70.29 L -19.89 68.92 L -15.02 67.83 L -9.96 67.04 L -4.76 66.56 L 0.5 66.4 L 5.76 66.56 L 10.96 67.04 L 16.02 67.83 L 20.89 68.92 L 25.51 70.29 L 29.8 71.94 L 33.73 73.84 L 37.25 75.96 L 40.3 78.29 L 42.85 80.78 L 44.86 83.41 L 46.32 86.15 L 47.2 88.96 L 47.5 91.8 L 46.9 99.93 L 46.61 97.09 L 45.73 94.29 L 44.28 91.57 L 42.28 88.96 L 39.74 86.49 L 36.71 84.2 L 33.22 82.11 L 29.32 80.25 L 25.05 78.64 L 20.46 77.31 L 15.62 76.27 L 10.59 75.53 L 5.43 75.11 L 0.2 75 L -5.03 75.21 L -10.19 75.74 L -15.22 76.58 L -20.06 77.72 L -24.65 79.14 L -28.92 80.83 L -32.82 82.77 L -36.31 84.93 L -39.34 87.28 L -41.88 89.8 L -43.88 92.45 L -45.33 95.2 L -46.21 98.02 L -46.5 100.86 Z" fill="#000" stroke="#000" stroke-width="1.6" stroke-linejoin="round"/>
</g>
<line x1="235.4" y1="199.7" x2="329.6" y2="199.7" stroke="#000" stroke-width="1.55"/>
<line x1="184.4" y1="409.2" x2="236.2" y2="409.2" stroke="#000" stroke-width="1.55"/>
<line x1="179.4" y1="429.2" x2="269.9" y2="429.2" stroke="#000" stroke-width="1.55"/>
<line x1="174.3" y1="448.2" x2="262.8" y2="448.2" stroke="#000" stroke-width="1.55"/>
<line x1="286" y1="200.4" x2="269.6" y2="263.5" stroke="#000" stroke-width="1.45"/>
<line x1="259.5" y1="302.5" x2="232" y2="408.6" stroke="#000" stroke-width="1.45"/>
<polygon points="286 200.4 277.18 215.68 286.28 218.04" fill="#000"/>
<polygon points="232 408.6 240.82 393.32 231.72 390.96" fill="#000"/>
<line x1="325.3" y1="200.4" x2="297" y2="305.3" stroke="#000" stroke-width="1.45"/>
<line x1="287.5" y1="345" x2="266" y2="428.6" stroke="#000" stroke-width="1.45"/>
<polygon points="325.3 200.4 316.48 215.67 325.57 218.04" fill="#000"/>
<polygon points="266 428.6 274.82 413.33 265.73 410.96" fill="#000"/>
<line x1="257.2" y1="449.4" x2="248.9" y2="482.3" stroke="#000" stroke-width="1.45"/>
<polygon points="257.2 448.9 248.54 464.26 257.66 466.53" fill="#000"/>
<line x1="567.9" y1="209.9" x2="622.8" y2="209.9" stroke="#000" stroke-width="1.55"/>
<line x1="490.8" y1="459.5" x2="557" y2="459.5" stroke="#000" stroke-width="1.55"/>
<line x1="615.3" y1="210.6" x2="588.8" y2="307.4" stroke="#000" stroke-width="1.45"/>
<line x1="576.2" y1="353.7" x2="549.7" y2="458.6" stroke="#000" stroke-width="1.45"/>
<polygon points="615.3 210.6 606.41 225.83 615.5 228.24" fill="#000"/>
<polygon points="549.7 458.6 558.59 443.37 549.5 440.96" fill="#000"/>
<line x1="125.3" y1="198" x2="148.1" y2="210.6" stroke="#000" stroke-width="1.45"/>
<line x1="69.9" y1="397.3" x2="119.4" y2="426.9" stroke="#000" stroke-width="1.45"/>
<line x1="442.3" y1="179.9" x2="483.5" y2="203.5" stroke="#000" stroke-width="1.45"/>
<line x1="437.6" y1="230.1" x2="462.9" y2="244.7" stroke="#000" stroke-width="1.45"/>
<path d="M 116.7 495.6 L 101.7 550 C 98 564 110 579.8 132 579.8 L 376 579.8 C 405 579.8 423 566 431.4 541.1 L 445.1 495.4" fill="none" stroke="#000" stroke-width="1.4" stroke-dasharray="49 8.2 8.2 8.2" stroke-dashoffset="17.7"/>
<g id="wrench" fill="none" stroke="#000" stroke-width="1.3" stroke-linecap="round" stroke-linejoin="round"><path d="M 35 277 L 62 258 C 64 250 68 244 76 243 C 80 242 84 243 85 246 C 80 246 75 250 75 255 C 76 260 82 263 88 259 C 90 258 91 258 91 260 C 90 266 84 270 78 270 C 73 270 70 268 67 268 L 55 276"/><path d="M 54.7 276.8 L 68 268.2 C 71 268.4 75 271 80.7 271.7 C 86 271 90 266 90.9 260.5" stroke-width="2.2"/></g>
<g font-family="'Liberation Sans', sans-serif" fill="#000" opacity="0.999">
<text transform="translate(14.8 197.7) scale(1.1249 1.0000)" font-size="30.3">M</text>
<polygon points="50.2,176.85 52.7,176.85 52.7,197.7 50.2,197.7 50.2,179.55 46.6,181.45 45.8,179.55"/>
<text transform="translate(55.28 197.7) scale(1.1953 1.0000)" font-size="30.3">2</text>
<text transform="translate(82.79 197.7) scale(0.9182 0.9200)" font-size="30.3">x</text>
<polygon points="112.9,176.85 115.4,176.85 115.4,197.7 112.9,197.7 112.9,179.55 109.3,181.45 108.5,179.55"/>
<polygon points="35.7,286.04 38.2,286.04 38.2,306.4 35.7,306.4 35.7,288.74 32.1,290.64 31.3,288.74"/>
<text transform="translate(41.4 306.4) scale(1.0553 1.0000)" font-size="29.6">7</text>
<text transform="translate(71.48 306.4) scale(1.0660 1.0000)" font-size="29.6">4</text>
<line x1="60.9" y1="307.8" x2="69.7" y2="285.2" stroke="#000" stroke-width="2.1"/>
<text transform="translate(10.5 402.1) scale(0.8578 1.0000)" font-size="31.2">L</text>
<text transform="translate(27.45 402.1) scale(0.7215 1.0000)" font-size="31.2">E</text>
<text transform="translate(44.58 402.1) scale(0.8280 1.0000)" font-size="31.2">D</text>
<text transform="translate(331.3 180) scale(1.1249 1.0000)" font-size="30.3">M</text>
<polygon points="367.1,159.15 369.6,159.15 369.6,180 367.1,180 367.1,161.85 363.5,163.75 362.7,161.85"/>
<text transform="translate(372.18 180) scale(1.1953 1.0000)" font-size="30.3">2</text>
<text transform="translate(399.07 180) scale(0.9597 0.9200)" font-size="30.3">x</text>
<polygon points="429.8,159.15 432.3,159.15 432.3,180 429.8,180 429.8,161.85 426.2,163.75 425.4,161.85"/>
<text transform="translate(374.61 229.2) scale(1.0796 0.9200)" font-size="29.6">ø</text>
<polygon points="410.8,208.84 413.3,208.84 413.3,229.2 410.8,229.2 410.8,211.54 407.2,213.44 406.4,211.54"/>
<text transform="translate(416.88 229.2) scale(0.9477 1.0000)" font-size="29.6">5</text>
<text transform="translate(249.38 293.2) scale(1.0312 1.0000)" font-size="30.6">4</text>
<text transform="translate(267.4 293.2) scale(0.8961 1.0000)" font-size="30.6">5</text>
<text transform="translate(275.58 335) scale(0.9167 1.0000)" font-size="30.6">5</text>
<text transform="translate(291.31 335) scale(0.9981 1.0000)" font-size="30.6">0</text>
<text transform="translate(272.36 452.9) scale(1.0861 1.0000)" font-size="29.6">4</text>
<text transform="translate(554.41 340) scale(0.9922 1.0000)" font-size="30.4">4</text>
<text transform="translate(571.35 340) scale(0.9464 1.0000)" font-size="30.4">8</text>
<text transform="translate(584.58 340) scale(1.5082 1.0000)" font-size="30.4">,</text>
<text transform="translate(595.18 340) scale(0.9228 1.0000)" font-size="30.4">5</text>
</g>
</svg>
</body></html>
